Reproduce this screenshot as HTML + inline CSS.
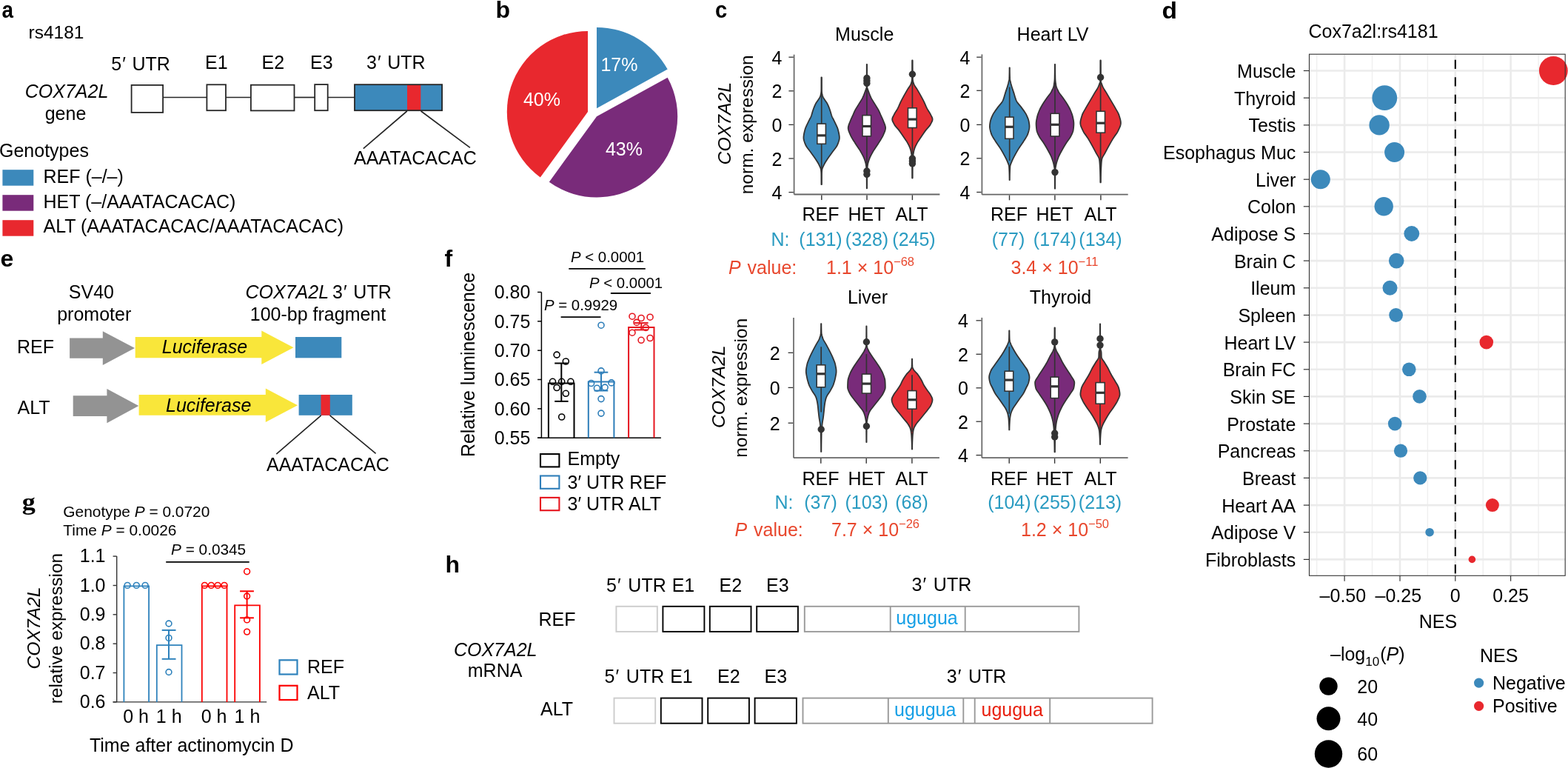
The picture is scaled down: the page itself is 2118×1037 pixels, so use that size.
<!DOCTYPE html>
<html><head><meta charset="utf-8"><title>Figure</title><style>
html,body{margin:0;padding:0;background:#fff;overflow:hidden;}
svg{display:block;}
text{font-family:"Liberation Sans",Arial,Helvetica,sans-serif;font-size:25px;fill:#000;}
</style></head><body>
<svg width="2118" height="1037" viewBox="0 0 2118 1037">
<rect x="0" y="0" width="2118" height="1037" fill="#fff"/>
<text transform="translate(2.6 24) scale(0.87 1)" x="0" y="0" style="font-size:32px;font-weight:bold">a</text>
<text x="38.5" y="52.0" style="font-size:24.5px" >rs4181</text>
<text x="150.3" y="95.0" >5<tspan dx="1.0">′</tspan><tspan dx="1.6"> UTR</tspan></text>
<text x="277.0" y="93.0" >E1</text>
<text x="353.5" y="93.0" >E2</text>
<text x="419.0" y="93.0" >E3</text>
<text x="495.0" y="93.0" >3<tspan dx="1.0">′</tspan><tspan dx="1.6"> UTR</tspan></text>
<text x="90.0" y="132.0" text-anchor="middle" style="font-style:italic" >COX7A2L</text>
<text x="88.5" y="161.5" text-anchor="middle" >gene</text>
<line x1="221.0" y1="131.5" x2="279.0" y2="131.5" stroke="#262626" stroke-width="1.7" />
<line x1="305.5" y1="131.5" x2="339.0" y2="131.5" stroke="#262626" stroke-width="1.7" />
<line x1="398.0" y1="131.5" x2="425.0" y2="131.5" stroke="#262626" stroke-width="1.7" />
<line x1="443.0" y1="131.5" x2="479.0" y2="131.5" stroke="#262626" stroke-width="1.7" />
<rect x="177.6" y="114.9" width="42.5" height="37.0" fill="#fff" stroke="#262626" stroke-width="1.8" />
<rect x="279.4" y="114.3" width="25.6" height="34.9" fill="#fff" stroke="#262626" stroke-width="1.8" />
<rect x="338.9" y="114.7" width="58.6" height="34.7" fill="#fff" stroke="#262626" stroke-width="1.8" />
<rect x="425.2" y="114.1" width="17.5" height="35.1" fill="#fff" stroke="#262626" stroke-width="1.8" />
<rect x="478.9" y="114.1" width="118.3" height="35.2" fill="#3c89bb" />
<rect x="550.0" y="114.1" width="18.3" height="35.2" fill="#e8282e" />
<rect x="479.0" y="114.2" width="118.1" height="35.0" fill="none" stroke="#262626" stroke-width="1.8" />
<line x1="549.8" y1="150.0" x2="490.8" y2="200.7" stroke="#262626" stroke-width="1.7" />
<line x1="568.6" y1="150.0" x2="634.9" y2="199.4" stroke="#262626" stroke-width="1.7" />
<text x="478.0" y="222.0" >AAATACACAC</text>
<text x="-1.0" y="211.7" >Genotypes</text>
<rect x="3.4" y="229.2" width="41.9" height="21.5" fill="#3c89bb" />
<text x="58.5" y="246.9" >REF (–/–)</text>
<rect x="3.4" y="263.2" width="41.9" height="21.5" fill="#792b7a" />
<text x="58.5" y="280.8" >HET (–/AAATACACAC)</text>
<rect x="3.4" y="297.2" width="41.9" height="21.5" fill="#e8282e" />
<text x="58.5" y="313.5" >ALT (AAATACACAC/AAATACACAC)</text>
<text x="669.5" y="24.0" style="font-size:32px;font-weight:bold" >b</text>
<path d="M806.00,146.20 L806.00,37.00 A109.2,109.2 0 0 1 901.69,93.59 Z" fill="#3c89bb" />
<path d="M806.00,157.30 L901.69,104.69 A109.2,109.2 0 0 1 741.81,245.64 Z" fill="#792b7a" />
<path d="M794.00,151.10 L729.81,239.44 A109.2,109.2 0 0 1 794.00,41.90 Z" fill="#e8282e" />
<text x="836.5" y="96.4" text-anchor="middle" style="fill:#fff" >17%</text>
<text x="732.0" y="143.1" text-anchor="middle" style="fill:#fff" >40%</text>
<text x="843.0" y="210.0" text-anchor="middle" style="fill:#fff" >43%</text>
<text transform="translate(966.0 24) scale(0.91 1)" x="0" y="0" style="font-size:32px;font-weight:bold">c</text>
<text x="1167.7" y="54.7" text-anchor="middle" >Muscle</text>
<text x="1422.0" y="55.1" text-anchor="middle" >Heart LV</text>
<text x="1172.0" y="410.1" text-anchor="middle" >Liver</text>
<text x="1432.4" y="410.1" text-anchor="middle" >Thyroid</text>
<text x="987.3" y="166.7" text-anchor="middle" style="font-size:24.8px;font-style:italic" transform="rotate(-90 987.3 166.7)">COX7A2L</text>
<text x="1017.2" y="168.3" text-anchor="middle" style="font-size:24.5px" transform="rotate(-90 1017.2 168.3)">norm. expression</text>
<text x="979.2" y="522.2" text-anchor="middle" style="font-size:24.8px;font-style:italic" transform="rotate(-90 979.2 522.2)">COX7A2L</text>
<text x="1009.1" y="523.6" text-anchor="middle" style="font-size:24.5px" transform="rotate(-90 1009.1 523.65)">norm. expression</text>
<line x1="1072.6" y1="73.7" x2="1072.6" y2="262.5" stroke="#666" stroke-width="1.7" />
<line x1="1072.6" y1="262.5" x2="1269.4" y2="262.5" stroke="#666" stroke-width="1.8" />
<line x1="1065.4" y1="77.2" x2="1071.8" y2="77.2" stroke="#333" stroke-width="1.3" />
<text x="1056.5" y="86.8" text-anchor="end" >4</text>
<line x1="1065.4" y1="122.8" x2="1071.8" y2="122.8" stroke="#333" stroke-width="1.3" />
<text x="1056.5" y="132.4" text-anchor="end" >2</text>
<line x1="1065.4" y1="168.4" x2="1071.8" y2="168.4" stroke="#333" stroke-width="1.3" />
<text x="1056.5" y="178.0" text-anchor="end" >0</text>
<line x1="1065.4" y1="214.0" x2="1071.8" y2="214.0" stroke="#333" stroke-width="1.3" />
<text x="1056.5" y="223.6" text-anchor="end" >2</text>
<line x1="1065.4" y1="259.6" x2="1071.8" y2="259.6" stroke="#333" stroke-width="1.3" />
<text x="1056.5" y="269.2" text-anchor="end" >4</text>
<line x1="1109.8" y1="263.4" x2="1109.8" y2="270.1" stroke="#333" stroke-width="1.4" />
<line x1="1171.0" y1="263.4" x2="1171.0" y2="270.1" stroke="#333" stroke-width="1.4" />
<line x1="1232.4" y1="263.4" x2="1232.4" y2="270.1" stroke="#333" stroke-width="1.4" />
<line x1="1326.4" y1="73.4" x2="1326.4" y2="262.7" stroke="#666" stroke-width="1.7" />
<line x1="1326.4" y1="262.7" x2="1523.7" y2="262.7" stroke="#666" stroke-width="1.8" />
<line x1="1319.2" y1="77.2" x2="1325.6" y2="77.2" stroke="#333" stroke-width="1.3" />
<text x="1310.3" y="86.8" text-anchor="end" >4</text>
<line x1="1319.2" y1="122.3" x2="1325.6" y2="122.3" stroke="#333" stroke-width="1.3" />
<text x="1310.3" y="131.9" text-anchor="end" >2</text>
<line x1="1319.2" y1="168.4" x2="1325.6" y2="168.4" stroke="#333" stroke-width="1.3" />
<text x="1310.3" y="178.0" text-anchor="end" >0</text>
<line x1="1319.2" y1="213.8" x2="1325.6" y2="213.8" stroke="#333" stroke-width="1.3" />
<text x="1310.3" y="223.4" text-anchor="end" >2</text>
<line x1="1319.2" y1="259.5" x2="1325.6" y2="259.5" stroke="#333" stroke-width="1.3" />
<text x="1310.3" y="269.1" text-anchor="end" >4</text>
<line x1="1363.5" y1="263.6" x2="1363.5" y2="270.3" stroke="#333" stroke-width="1.4" />
<line x1="1424.9" y1="263.6" x2="1424.9" y2="270.3" stroke="#333" stroke-width="1.4" />
<line x1="1486.9" y1="263.6" x2="1486.9" y2="270.3" stroke="#333" stroke-width="1.4" />
<line x1="1072.0" y1="428.9" x2="1072.0" y2="618.2" stroke="#666" stroke-width="1.7" />
<line x1="1072.0" y1="618.2" x2="1268.9" y2="618.2" stroke="#666" stroke-width="1.8" />
<line x1="1064.6" y1="476.3" x2="1071.2" y2="476.3" stroke="#333" stroke-width="1.3" />
<text x="1053.6" y="485.9" text-anchor="end" >2</text>
<line x1="1064.6" y1="523.4" x2="1071.2" y2="523.4" stroke="#333" stroke-width="1.3" />
<text x="1053.6" y="533.0" text-anchor="end" >0</text>
<line x1="1064.6" y1="571.2" x2="1071.2" y2="571.2" stroke="#333" stroke-width="1.3" />
<text x="1053.6" y="580.8" text-anchor="end" >2</text>
<line x1="1108.8" y1="619.1" x2="1108.8" y2="625.8" stroke="#333" stroke-width="1.4" />
<line x1="1170.2" y1="619.1" x2="1170.2" y2="625.8" stroke="#333" stroke-width="1.4" />
<line x1="1231.9" y1="619.1" x2="1231.9" y2="625.8" stroke="#333" stroke-width="1.4" />
<line x1="1326.3" y1="428.9" x2="1326.3" y2="618.2" stroke="#666" stroke-width="1.7" />
<line x1="1326.3" y1="618.2" x2="1523.6" y2="618.2" stroke="#666" stroke-width="1.8" />
<line x1="1318.5" y1="432.8" x2="1325.5" y2="432.8" stroke="#333" stroke-width="1.3" />
<text x="1307.9" y="442.4" text-anchor="end" >4</text>
<line x1="1318.5" y1="478.3" x2="1325.5" y2="478.3" stroke="#333" stroke-width="1.3" />
<text x="1307.9" y="487.9" text-anchor="end" >2</text>
<line x1="1318.5" y1="523.8" x2="1325.5" y2="523.8" stroke="#333" stroke-width="1.3" />
<text x="1307.9" y="533.4" text-anchor="end" >0</text>
<line x1="1318.5" y1="569.2" x2="1325.5" y2="569.2" stroke="#333" stroke-width="1.3" />
<text x="1307.9" y="578.8" text-anchor="end" >2</text>
<line x1="1318.5" y1="614.6" x2="1325.5" y2="614.6" stroke="#333" stroke-width="1.3" />
<text x="1307.9" y="624.2" text-anchor="end" >4</text>
<line x1="1363.2" y1="619.1" x2="1363.2" y2="625.8" stroke="#333" stroke-width="1.4" />
<line x1="1424.6" y1="619.1" x2="1424.6" y2="625.8" stroke="#333" stroke-width="1.4" />
<line x1="1486.3" y1="619.1" x2="1486.3" y2="625.8" stroke="#333" stroke-width="1.4" />
<path d="M1109.80,104.30 L1109.80,105.30 L1109.80,106.30 L1109.80,107.30 L1109.80,108.30 L1109.80,109.30 L1109.80,110.30 L1109.81,111.30 L1109.81,112.30 L1109.81,113.30 L1109.81,114.30 L1109.82,115.30 L1109.82,116.30 L1109.82,117.30 L1109.83,118.30 L1109.83,119.30 L1109.84,120.30 L1109.85,121.30 L1109.85,122.30 L1109.91,123.30 L1110.02,124.30 L1110.16,125.30 L1110.33,126.30 L1110.51,127.30 L1110.76,128.30 L1111.10,129.30 L1111.47,130.30 L1111.90,131.30 L1112.41,132.30 L1113.00,133.30 L1113.65,134.30 L1114.33,135.30 L1115.03,136.30 L1115.73,137.30 L1116.41,138.30 L1117.05,139.30 L1117.64,140.30 L1118.15,141.30 L1118.61,142.30 L1119.03,143.30 L1119.44,144.30 L1119.83,145.30 L1120.20,146.30 L1120.56,147.30 L1120.91,148.30 L1121.25,149.30 L1121.57,150.30 L1121.87,151.30 L1122.16,152.30 L1122.44,153.30 L1122.74,154.30 L1123.05,155.30 L1123.40,156.30 L1123.79,157.30 L1124.24,158.30 L1124.73,159.30 L1125.24,160.30 L1125.78,161.30 L1126.31,162.30 L1126.82,163.30 L1127.30,164.30 L1127.77,165.30 L1128.25,166.30 L1128.74,167.30 L1129.22,168.30 L1129.70,169.30 L1130.16,170.30 L1130.60,171.30 L1131.01,172.30 L1131.38,173.30 L1131.70,174.30 L1131.97,175.30 L1132.23,176.30 L1132.48,177.30 L1132.72,178.30 L1132.96,179.30 L1133.17,180.30 L1133.37,181.30 L1133.54,182.30 L1133.68,183.30 L1133.78,184.30 L1133.84,185.30 L1133.85,186.30 L1133.77,187.30 L1133.62,188.30 L1133.40,189.30 L1133.12,190.30 L1132.79,191.30 L1132.43,192.30 L1132.04,193.30 L1131.65,194.30 L1131.25,195.30 L1130.81,196.30 L1130.27,197.30 L1129.66,198.30 L1128.98,199.30 L1128.26,200.30 L1127.50,201.30 L1126.72,202.30 L1125.94,203.30 L1125.17,204.30 L1124.42,205.30 L1123.71,206.30 L1123.00,207.30 L1122.28,208.30 L1121.56,209.30 L1120.83,210.30 L1120.11,211.30 L1119.39,212.30 L1118.69,213.30 L1118.01,214.30 L1117.35,215.30 L1116.70,216.30 L1116.05,217.30 L1115.41,218.30 L1114.78,219.30 L1114.18,220.30 L1113.62,221.30 L1113.09,222.30 L1112.61,223.30 L1112.13,224.30 L1111.65,225.30 L1111.20,226.30 L1110.81,227.30 L1110.52,228.30 L1110.34,229.30 L1110.22,230.30 L1110.11,231.30 L1110.02,232.30 L1109.95,233.30 L1109.90,234.30 L1109.86,235.30 L1109.85,236.30 L1109.84,237.30 L1109.83,238.30 L1109.83,239.30 L1109.82,240.30 L1109.82,241.30 L1109.81,242.30 L1109.81,243.30 L1109.81,244.30 L1109.80,245.30 L1109.80,246.30 L1109.80,247.30 L1109.80,248.30 L1109.80,249.20 L1109.50,249.20 L1109.50,248.30 L1109.50,247.30 L1109.50,246.30 L1109.50,245.30 L1109.49,244.30 L1109.49,243.30 L1109.49,242.30 L1109.48,241.30 L1109.48,240.30 L1109.47,239.30 L1109.47,238.30 L1109.46,237.30 L1109.45,236.30 L1109.44,235.30 L1109.40,234.30 L1109.35,233.30 L1109.28,232.30 L1109.19,231.30 L1109.08,230.30 L1108.96,229.30 L1108.78,228.30 L1108.49,227.30 L1108.10,226.30 L1107.65,225.30 L1107.17,224.30 L1106.69,223.30 L1106.21,222.30 L1105.68,221.30 L1105.12,220.30 L1104.52,219.30 L1103.89,218.30 L1103.25,217.30 L1102.60,216.30 L1101.95,215.30 L1101.29,214.30 L1100.61,213.30 L1099.91,212.30 L1099.19,211.30 L1098.47,210.30 L1097.74,209.30 L1097.02,208.30 L1096.30,207.30 L1095.59,206.30 L1094.88,205.30 L1094.13,204.30 L1093.36,203.30 L1092.58,202.30 L1091.80,201.30 L1091.04,200.30 L1090.32,199.30 L1089.64,198.30 L1089.03,197.30 L1088.49,196.30 L1088.05,195.30 L1087.65,194.30 L1087.26,193.30 L1086.87,192.30 L1086.51,191.30 L1086.18,190.30 L1085.90,189.30 L1085.68,188.30 L1085.53,187.30 L1085.45,186.30 L1085.46,185.30 L1085.52,184.30 L1085.62,183.30 L1085.76,182.30 L1085.93,181.30 L1086.13,180.30 L1086.34,179.30 L1086.58,178.30 L1086.82,177.30 L1087.07,176.30 L1087.33,175.30 L1087.60,174.30 L1087.92,173.30 L1088.29,172.30 L1088.70,171.30 L1089.14,170.30 L1089.60,169.30 L1090.08,168.30 L1090.56,167.30 L1091.05,166.30 L1091.53,165.30 L1092.00,164.30 L1092.48,163.30 L1092.99,162.30 L1093.52,161.30 L1094.06,160.30 L1094.57,159.30 L1095.06,158.30 L1095.51,157.30 L1095.90,156.30 L1096.25,155.30 L1096.56,154.30 L1096.86,153.30 L1097.14,152.30 L1097.43,151.30 L1097.73,150.30 L1098.05,149.30 L1098.39,148.30 L1098.74,147.30 L1099.10,146.30 L1099.47,145.30 L1099.86,144.30 L1100.27,143.30 L1100.69,142.30 L1101.15,141.30 L1101.66,140.30 L1102.25,139.30 L1102.89,138.30 L1103.57,137.30 L1104.27,136.30 L1104.97,135.30 L1105.65,134.30 L1106.30,133.30 L1106.89,132.30 L1107.40,131.30 L1107.83,130.30 L1108.20,129.30 L1108.54,128.30 L1108.79,127.30 L1108.97,126.30 L1109.14,125.30 L1109.28,124.30 L1109.39,123.30 L1109.45,122.30 L1109.45,121.30 L1109.46,120.30 L1109.47,119.30 L1109.47,118.30 L1109.48,117.30 L1109.48,116.30 L1109.48,115.30 L1109.49,114.30 L1109.49,113.30 L1109.49,112.30 L1109.49,111.30 L1109.50,110.30 L1109.50,109.30 L1109.50,108.30 L1109.50,107.30 L1109.50,106.30 L1109.50,105.30 L1109.50,104.30 Z" fill="#3c89bb" stroke="#333333" stroke-width="1.8" stroke-linejoin="round"/>
<line x1="1109.7" y1="104.3" x2="1109.7" y2="249.2" stroke="#333333" stroke-width="1.7" />
<rect x="1103.8" y="167.1" width="11.6" height="27.2" fill="#fff" stroke="#333333" stroke-width="1.6" />
<line x1="1103.8" y1="182.9" x2="1115.5" y2="182.9" stroke="#333333" stroke-width="3.2" />
<path d="M1171.05,86.90 L1171.05,87.90 L1171.05,88.90 L1171.05,89.90 L1171.05,90.90 L1171.05,91.90 L1171.06,92.90 L1171.06,93.90 L1171.06,94.90 L1171.06,95.90 L1171.07,96.90 L1171.07,97.90 L1171.08,98.90 L1171.08,99.90 L1171.09,100.90 L1171.10,101.90 L1171.10,102.90 L1171.11,103.90 L1171.12,104.90 L1171.13,105.90 L1171.14,106.90 L1171.15,107.90 L1171.16,108.90 L1171.18,109.90 L1171.19,110.90 L1171.21,111.90 L1171.22,112.90 L1171.24,113.90 L1171.25,114.90 L1171.27,115.90 L1171.29,116.90 L1171.34,117.90 L1171.52,118.90 L1171.80,119.90 L1172.16,120.90 L1172.54,121.90 L1172.92,122.90 L1173.27,123.90 L1173.62,124.90 L1173.99,125.90 L1174.38,126.90 L1174.78,127.90 L1175.19,128.90 L1175.63,129.90 L1176.08,130.90 L1176.55,131.90 L1177.06,132.90 L1177.60,133.90 L1178.19,134.90 L1178.80,135.90 L1179.42,136.90 L1180.06,137.90 L1180.69,138.90 L1181.31,139.90 L1181.92,140.90 L1182.53,141.90 L1183.15,142.90 L1183.78,143.90 L1184.41,144.90 L1185.03,145.90 L1185.63,146.90 L1186.20,147.90 L1186.74,148.90 L1187.25,149.90 L1187.71,150.90 L1188.15,151.90 L1188.57,152.90 L1189.00,153.90 L1189.43,154.90 L1189.89,155.90 L1190.35,156.90 L1190.82,157.90 L1191.28,158.90 L1191.74,159.90 L1192.18,160.90 L1192.60,161.90 L1192.99,162.90 L1193.37,163.90 L1193.77,164.90 L1194.19,165.90 L1194.61,166.90 L1195.00,167.90 L1195.36,168.90 L1195.67,169.90 L1195.90,170.90 L1196.05,171.90 L1196.10,172.90 L1196.03,173.90 L1195.87,174.90 L1195.63,175.90 L1195.32,176.90 L1194.95,177.90 L1194.55,178.90 L1194.13,179.90 L1193.69,180.90 L1193.27,181.90 L1192.84,182.90 L1192.37,183.90 L1191.85,184.90 L1191.28,185.90 L1190.69,186.90 L1190.07,187.90 L1189.43,188.90 L1188.78,189.90 L1188.13,190.90 L1187.50,191.90 L1186.88,192.90 L1186.25,193.90 L1185.60,194.90 L1184.94,195.90 L1184.27,196.90 L1183.59,197.90 L1182.92,198.90 L1182.25,199.90 L1181.59,200.90 L1180.94,201.90 L1180.32,202.90 L1179.72,203.90 L1179.14,204.90 L1178.58,205.90 L1178.03,206.90 L1177.47,207.90 L1176.93,208.90 L1176.40,209.90 L1175.89,210.90 L1175.41,211.90 L1174.95,212.90 L1174.53,213.90 L1174.14,214.90 L1173.79,215.90 L1173.46,216.90 L1173.14,217.90 L1172.84,218.90 L1172.57,219.90 L1172.34,220.90 L1172.15,221.90 L1172.00,222.90 L1171.85,223.90 L1171.72,224.90 L1171.60,225.90 L1171.49,226.90 L1171.40,227.90 L1171.34,228.90 L1171.30,229.90 L1171.28,230.90 L1171.26,231.90 L1171.24,232.90 L1171.22,233.90 L1171.21,234.90 L1171.19,235.90 L1171.17,236.90 L1171.16,237.90 L1171.15,238.90 L1171.13,239.90 L1171.12,240.90 L1171.11,241.90 L1171.10,242.90 L1171.09,243.90 L1171.08,244.90 L1171.08,245.90 L1171.07,246.90 L1171.07,247.90 L1171.06,248.90 L1171.06,249.90 L1171.05,250.90 L1171.05,251.90 L1171.05,252.90 L1171.05,253.90 L1171.05,254.30 L1170.75,254.30 L1170.75,253.90 L1170.75,252.90 L1170.75,251.90 L1170.75,250.90 L1170.74,249.90 L1170.74,248.90 L1170.73,247.90 L1170.73,246.90 L1170.72,245.90 L1170.72,244.90 L1170.71,243.90 L1170.70,242.90 L1170.69,241.90 L1170.68,240.90 L1170.67,239.90 L1170.65,238.90 L1170.64,237.90 L1170.63,236.90 L1170.61,235.90 L1170.59,234.90 L1170.58,233.90 L1170.56,232.90 L1170.54,231.90 L1170.52,230.90 L1170.50,229.90 L1170.46,228.90 L1170.40,227.90 L1170.31,226.90 L1170.20,225.90 L1170.08,224.90 L1169.95,223.90 L1169.80,222.90 L1169.65,221.90 L1169.46,220.90 L1169.23,219.90 L1168.96,218.90 L1168.66,217.90 L1168.34,216.90 L1168.01,215.90 L1167.66,214.90 L1167.27,213.90 L1166.85,212.90 L1166.39,211.90 L1165.91,210.90 L1165.40,209.90 L1164.87,208.90 L1164.33,207.90 L1163.77,206.90 L1163.22,205.90 L1162.66,204.90 L1162.08,203.90 L1161.48,202.90 L1160.86,201.90 L1160.21,200.90 L1159.55,199.90 L1158.88,198.90 L1158.21,197.90 L1157.53,196.90 L1156.86,195.90 L1156.20,194.90 L1155.55,193.90 L1154.92,192.90 L1154.30,191.90 L1153.67,190.90 L1153.02,189.90 L1152.37,188.90 L1151.73,187.90 L1151.11,186.90 L1150.52,185.90 L1149.95,184.90 L1149.43,183.90 L1148.96,182.90 L1148.53,181.90 L1148.11,180.90 L1147.67,179.90 L1147.25,178.90 L1146.85,177.90 L1146.48,176.90 L1146.17,175.90 L1145.93,174.90 L1145.77,173.90 L1145.70,172.90 L1145.75,171.90 L1145.90,170.90 L1146.13,169.90 L1146.44,168.90 L1146.80,167.90 L1147.19,166.90 L1147.61,165.90 L1148.03,164.90 L1148.43,163.90 L1148.81,162.90 L1149.20,161.90 L1149.62,160.90 L1150.06,159.90 L1150.52,158.90 L1150.98,157.90 L1151.45,156.90 L1151.91,155.90 L1152.37,154.90 L1152.80,153.90 L1153.23,152.90 L1153.65,151.90 L1154.09,150.90 L1154.55,149.90 L1155.06,148.90 L1155.60,147.90 L1156.17,146.90 L1156.77,145.90 L1157.39,144.90 L1158.02,143.90 L1158.65,142.90 L1159.27,141.90 L1159.88,140.90 L1160.49,139.90 L1161.11,138.90 L1161.74,137.90 L1162.38,136.90 L1163.00,135.90 L1163.61,134.90 L1164.20,133.90 L1164.74,132.90 L1165.25,131.90 L1165.72,130.90 L1166.17,129.90 L1166.61,128.90 L1167.02,127.90 L1167.42,126.90 L1167.81,125.90 L1168.18,124.90 L1168.53,123.90 L1168.88,122.90 L1169.26,121.90 L1169.64,120.90 L1170.00,119.90 L1170.28,118.90 L1170.46,117.90 L1170.51,116.90 L1170.53,115.90 L1170.55,114.90 L1170.56,113.90 L1170.58,112.90 L1170.59,111.90 L1170.61,110.90 L1170.62,109.90 L1170.64,108.90 L1170.65,107.90 L1170.66,106.90 L1170.67,105.90 L1170.68,104.90 L1170.69,103.90 L1170.70,102.90 L1170.70,101.90 L1170.71,100.90 L1170.72,99.90 L1170.72,98.90 L1170.73,97.90 L1170.73,96.90 L1170.74,95.90 L1170.74,94.90 L1170.74,93.90 L1170.74,92.90 L1170.75,91.90 L1170.75,90.90 L1170.75,89.90 L1170.75,88.90 L1170.75,87.90 L1170.75,86.90 Z" fill="#792b7a" stroke="#333333" stroke-width="1.8" stroke-linejoin="round"/>
<line x1="1170.9" y1="86.9" x2="1170.9" y2="254.3" stroke="#333333" stroke-width="1.7" />
<circle cx="1170.9" cy="105.5" r="4.7" fill="#333333"/>
<circle cx="1170.9" cy="109.0" r="4.7" fill="#333333"/>
<circle cx="1170.9" cy="112.5" r="4.7" fill="#333333"/>
<circle cx="1170.9" cy="231.0" r="4.7" fill="#333333"/>
<circle cx="1170.9" cy="235.5" r="4.7" fill="#333333"/>
<rect x="1165.0" y="155.7" width="11.5" height="28.2" fill="#fff" stroke="#333333" stroke-width="1.6" />
<line x1="1165.0" y1="170.5" x2="1176.5" y2="170.5" stroke="#333333" stroke-width="3.2" />
<path d="M1232.55,81.40 L1232.55,82.40 L1232.55,83.40 L1232.55,84.40 L1232.56,85.40 L1232.56,86.40 L1232.56,87.40 L1232.57,88.40 L1232.57,89.40 L1232.58,90.40 L1232.59,91.40 L1232.60,92.40 L1232.60,93.40 L1232.61,94.40 L1232.63,95.40 L1232.64,96.40 L1232.65,97.40 L1232.67,98.40 L1232.68,99.40 L1232.70,100.40 L1232.72,101.40 L1232.74,102.40 L1232.76,103.40 L1232.78,104.40 L1232.80,105.40 L1232.85,106.40 L1232.95,107.40 L1233.10,108.40 L1233.28,109.40 L1233.49,110.40 L1233.73,111.40 L1233.98,112.40 L1234.35,113.40 L1234.83,114.40 L1235.40,115.40 L1236.04,116.40 L1236.71,117.40 L1237.40,118.40 L1238.06,119.40 L1238.68,120.40 L1239.26,121.40 L1239.84,122.40 L1240.42,123.40 L1240.99,124.40 L1241.57,125.40 L1242.14,126.40 L1242.71,127.40 L1243.27,128.40 L1243.82,129.40 L1244.37,130.40 L1244.92,131.40 L1245.46,132.40 L1246.00,133.40 L1246.53,134.40 L1247.05,135.40 L1247.55,136.40 L1248.05,137.40 L1248.53,138.40 L1248.98,139.40 L1249.42,140.40 L1249.85,141.40 L1250.28,142.40 L1250.71,143.40 L1251.17,144.40 L1251.65,145.40 L1252.16,146.40 L1252.73,147.40 L1253.33,148.40 L1253.96,149.40 L1254.60,150.40 L1255.23,151.40 L1255.83,152.40 L1256.39,153.40 L1256.90,154.40 L1257.41,155.40 L1257.95,156.40 L1258.47,157.40 L1258.95,158.40 L1259.32,159.40 L1259.55,160.40 L1259.59,161.40 L1259.45,162.40 L1259.15,163.40 L1258.74,164.40 L1258.25,165.40 L1257.71,166.40 L1257.17,167.40 L1256.62,168.40 L1255.97,169.40 L1255.22,170.40 L1254.39,171.40 L1253.52,172.40 L1252.63,173.40 L1251.75,174.40 L1250.91,175.40 L1250.13,176.40 L1249.39,177.40 L1248.66,178.40 L1247.95,179.40 L1247.24,180.40 L1246.55,181.40 L1245.86,182.40 L1245.18,183.40 L1244.50,184.40 L1243.83,185.40 L1243.14,186.40 L1242.45,187.40 L1241.77,188.40 L1241.10,189.40 L1240.45,190.40 L1239.83,191.40 L1239.24,192.40 L1238.69,193.40 L1238.16,194.40 L1237.64,195.40 L1237.12,196.40 L1236.63,197.40 L1236.18,198.40 L1235.75,199.40 L1235.38,200.40 L1235.06,201.40 L1234.79,202.40 L1234.54,203.40 L1234.32,204.40 L1234.11,205.40 L1233.93,206.40 L1233.76,207.40 L1233.60,208.40 L1233.44,209.40 L1233.29,210.40 L1233.13,211.40 L1233.00,212.40 L1232.89,213.40 L1232.82,214.40 L1232.79,215.40 L1232.77,216.40 L1232.75,217.40 L1232.73,218.40 L1232.71,219.40 L1232.70,220.40 L1232.68,221.40 L1232.67,222.40 L1232.65,223.40 L1232.64,224.40 L1232.63,225.40 L1232.62,226.40 L1232.61,227.40 L1232.60,228.40 L1232.59,229.40 L1232.58,230.40 L1232.58,231.40 L1232.57,232.40 L1232.57,233.40 L1232.56,234.40 L1232.56,235.40 L1232.56,236.40 L1232.55,237.40 L1232.55,238.40 L1232.55,239.40 L1232.55,240.40 L1232.55,240.50 L1232.25,240.50 L1232.25,240.40 L1232.25,239.40 L1232.25,238.40 L1232.25,237.40 L1232.24,236.40 L1232.24,235.40 L1232.24,234.40 L1232.23,233.40 L1232.23,232.40 L1232.22,231.40 L1232.22,230.40 L1232.21,229.40 L1232.20,228.40 L1232.19,227.40 L1232.18,226.40 L1232.17,225.40 L1232.16,224.40 L1232.15,223.40 L1232.13,222.40 L1232.12,221.40 L1232.10,220.40 L1232.09,219.40 L1232.07,218.40 L1232.05,217.40 L1232.03,216.40 L1232.01,215.40 L1231.98,214.40 L1231.91,213.40 L1231.80,212.40 L1231.67,211.40 L1231.51,210.40 L1231.36,209.40 L1231.20,208.40 L1231.04,207.40 L1230.87,206.40 L1230.69,205.40 L1230.48,204.40 L1230.26,203.40 L1230.01,202.40 L1229.74,201.40 L1229.42,200.40 L1229.05,199.40 L1228.62,198.40 L1228.17,197.40 L1227.68,196.40 L1227.16,195.40 L1226.64,194.40 L1226.11,193.40 L1225.56,192.40 L1224.97,191.40 L1224.35,190.40 L1223.70,189.40 L1223.03,188.40 L1222.35,187.40 L1221.66,186.40 L1220.97,185.40 L1220.30,184.40 L1219.62,183.40 L1218.94,182.40 L1218.25,181.40 L1217.56,180.40 L1216.85,179.40 L1216.14,178.40 L1215.41,177.40 L1214.67,176.40 L1213.89,175.40 L1213.05,174.40 L1212.17,173.40 L1211.28,172.40 L1210.41,171.40 L1209.58,170.40 L1208.83,169.40 L1208.18,168.40 L1207.63,167.40 L1207.09,166.40 L1206.55,165.40 L1206.06,164.40 L1205.65,163.40 L1205.35,162.40 L1205.21,161.40 L1205.25,160.40 L1205.48,159.40 L1205.85,158.40 L1206.33,157.40 L1206.85,156.40 L1207.39,155.40 L1207.90,154.40 L1208.41,153.40 L1208.97,152.40 L1209.57,151.40 L1210.20,150.40 L1210.84,149.40 L1211.47,148.40 L1212.07,147.40 L1212.64,146.40 L1213.15,145.40 L1213.63,144.40 L1214.09,143.40 L1214.52,142.40 L1214.95,141.40 L1215.38,140.40 L1215.82,139.40 L1216.27,138.40 L1216.75,137.40 L1217.25,136.40 L1217.75,135.40 L1218.27,134.40 L1218.80,133.40 L1219.34,132.40 L1219.88,131.40 L1220.43,130.40 L1220.98,129.40 L1221.53,128.40 L1222.09,127.40 L1222.66,126.40 L1223.23,125.40 L1223.81,124.40 L1224.38,123.40 L1224.96,122.40 L1225.54,121.40 L1226.12,120.40 L1226.74,119.40 L1227.40,118.40 L1228.09,117.40 L1228.76,116.40 L1229.40,115.40 L1229.97,114.40 L1230.45,113.40 L1230.82,112.40 L1231.07,111.40 L1231.31,110.40 L1231.52,109.40 L1231.70,108.40 L1231.85,107.40 L1231.95,106.40 L1232.00,105.40 L1232.02,104.40 L1232.04,103.40 L1232.06,102.40 L1232.08,101.40 L1232.10,100.40 L1232.12,99.40 L1232.13,98.40 L1232.15,97.40 L1232.16,96.40 L1232.17,95.40 L1232.19,94.40 L1232.20,93.40 L1232.20,92.40 L1232.21,91.40 L1232.22,90.40 L1232.23,89.40 L1232.23,88.40 L1232.24,87.40 L1232.24,86.40 L1232.24,85.40 L1232.25,84.40 L1232.25,83.40 L1232.25,82.40 L1232.25,81.40 Z" fill="#e42e35" stroke="#333333" stroke-width="1.8" stroke-linejoin="round"/>
<line x1="1232.4" y1="81.4" x2="1232.4" y2="240.5" stroke="#333333" stroke-width="1.7" />
<circle cx="1232.4" cy="100.3" r="4.7" fill="#333333"/>
<circle cx="1232.4" cy="214.0" r="4.7" fill="#333333"/>
<circle cx="1232.4" cy="217.5" r="4.7" fill="#333333"/>
<circle cx="1232.4" cy="221.0" r="4.7" fill="#333333"/>
<rect x="1226.5" y="145.8" width="11.6" height="26.7" fill="#fff" stroke="#333333" stroke-width="1.6" />
<line x1="1226.5" y1="161.1" x2="1238.0" y2="161.1" stroke="#333333" stroke-width="3.2" />
<path d="M1363.85,91.40 L1363.85,92.40 L1363.85,93.40 L1363.86,94.40 L1363.87,95.40 L1363.88,96.40 L1363.89,97.40 L1363.91,98.40 L1363.92,99.40 L1363.95,100.40 L1363.97,101.40 L1363.99,102.40 L1364.02,103.40 L1364.05,104.40 L1364.09,105.40 L1364.15,106.40 L1364.28,107.40 L1364.47,108.40 L1364.69,109.40 L1364.90,110.40 L1365.12,111.40 L1365.36,112.40 L1365.63,113.40 L1365.90,114.40 L1366.19,115.40 L1366.48,116.40 L1366.78,117.40 L1367.08,118.40 L1367.40,119.40 L1367.73,120.40 L1368.06,121.40 L1368.40,122.40 L1368.73,123.40 L1369.07,124.40 L1369.40,125.40 L1369.73,126.40 L1370.04,127.40 L1370.33,128.40 L1370.62,129.40 L1370.90,130.40 L1371.19,131.40 L1371.49,132.40 L1371.82,133.40 L1372.18,134.40 L1372.58,135.40 L1373.04,136.40 L1373.61,137.40 L1374.29,138.40 L1375.03,139.40 L1375.84,140.40 L1376.67,141.40 L1377.52,142.40 L1378.36,143.40 L1379.16,144.40 L1379.90,145.40 L1380.62,146.40 L1381.36,147.40 L1382.10,148.40 L1382.84,149.40 L1383.56,150.40 L1384.25,151.40 L1384.90,152.40 L1385.51,153.40 L1386.05,154.40 L1386.54,155.40 L1387.00,156.40 L1387.46,157.40 L1387.89,158.40 L1388.30,159.40 L1388.68,160.40 L1389.03,161.40 L1389.33,162.40 L1389.58,163.40 L1389.78,164.40 L1389.95,165.40 L1390.10,166.40 L1390.25,167.40 L1390.37,168.40 L1390.45,169.40 L1390.50,170.40 L1390.49,171.40 L1390.42,172.40 L1390.30,173.40 L1390.12,174.40 L1389.91,175.40 L1389.67,176.40 L1389.39,177.40 L1389.10,178.40 L1388.80,179.40 L1388.50,180.40 L1388.15,181.40 L1387.72,182.40 L1387.22,183.40 L1386.66,184.40 L1386.06,185.40 L1385.43,186.40 L1384.79,187.40 L1384.14,188.40 L1383.51,189.40 L1382.89,190.40 L1382.25,191.40 L1381.58,192.40 L1380.89,193.40 L1380.19,194.40 L1379.49,195.40 L1378.79,196.40 L1378.11,197.40 L1377.44,198.40 L1376.80,199.40 L1376.18,200.40 L1375.56,201.40 L1374.96,202.40 L1374.36,203.40 L1373.78,204.40 L1373.20,205.40 L1372.63,206.40 L1372.07,207.40 L1371.52,208.40 L1370.99,209.40 L1370.45,210.40 L1369.91,211.40 L1369.38,212.40 L1368.86,213.40 L1368.35,214.40 L1367.86,215.40 L1367.39,216.40 L1366.95,217.40 L1366.54,218.40 L1366.14,219.40 L1365.71,220.40 L1365.31,221.40 L1364.94,222.40 L1364.64,223.40 L1364.45,224.40 L1364.37,225.40 L1364.31,226.40 L1364.25,227.40 L1364.20,228.40 L1364.15,229.40 L1364.11,230.40 L1364.07,231.40 L1364.03,232.40 L1364.00,233.40 L1363.97,234.40 L1363.94,235.40 L1363.92,236.40 L1363.90,237.40 L1363.88,238.40 L1363.87,239.40 L1363.86,240.40 L1363.85,241.40 L1363.85,242.40 L1363.85,243.10 L1363.55,243.10 L1363.55,242.40 L1363.55,241.40 L1363.54,240.40 L1363.53,239.40 L1363.52,238.40 L1363.50,237.40 L1363.48,236.40 L1363.46,235.40 L1363.43,234.40 L1363.40,233.40 L1363.37,232.40 L1363.33,231.40 L1363.29,230.40 L1363.25,229.40 L1363.20,228.40 L1363.15,227.40 L1363.09,226.40 L1363.03,225.40 L1362.95,224.40 L1362.76,223.40 L1362.46,222.40 L1362.09,221.40 L1361.69,220.40 L1361.26,219.40 L1360.86,218.40 L1360.45,217.40 L1360.01,216.40 L1359.54,215.40 L1359.05,214.40 L1358.54,213.40 L1358.02,212.40 L1357.49,211.40 L1356.95,210.40 L1356.41,209.40 L1355.88,208.40 L1355.33,207.40 L1354.77,206.40 L1354.20,205.40 L1353.62,204.40 L1353.04,203.40 L1352.44,202.40 L1351.84,201.40 L1351.22,200.40 L1350.60,199.40 L1349.96,198.40 L1349.29,197.40 L1348.61,196.40 L1347.91,195.40 L1347.21,194.40 L1346.51,193.40 L1345.82,192.40 L1345.15,191.40 L1344.51,190.40 L1343.89,189.40 L1343.26,188.40 L1342.61,187.40 L1341.97,186.40 L1341.34,185.40 L1340.74,184.40 L1340.18,183.40 L1339.68,182.40 L1339.25,181.40 L1338.90,180.40 L1338.60,179.40 L1338.30,178.40 L1338.01,177.40 L1337.73,176.40 L1337.49,175.40 L1337.28,174.40 L1337.10,173.40 L1336.98,172.40 L1336.91,171.40 L1336.90,170.40 L1336.95,169.40 L1337.03,168.40 L1337.15,167.40 L1337.30,166.40 L1337.45,165.40 L1337.62,164.40 L1337.82,163.40 L1338.07,162.40 L1338.37,161.40 L1338.72,160.40 L1339.10,159.40 L1339.51,158.40 L1339.94,157.40 L1340.40,156.40 L1340.86,155.40 L1341.35,154.40 L1341.89,153.40 L1342.50,152.40 L1343.15,151.40 L1343.84,150.40 L1344.56,149.40 L1345.30,148.40 L1346.04,147.40 L1346.78,146.40 L1347.50,145.40 L1348.24,144.40 L1349.04,143.40 L1349.88,142.40 L1350.73,141.40 L1351.56,140.40 L1352.37,139.40 L1353.11,138.40 L1353.79,137.40 L1354.36,136.40 L1354.82,135.40 L1355.22,134.40 L1355.58,133.40 L1355.91,132.40 L1356.21,131.40 L1356.50,130.40 L1356.78,129.40 L1357.07,128.40 L1357.36,127.40 L1357.67,126.40 L1358.00,125.40 L1358.33,124.40 L1358.67,123.40 L1359.00,122.40 L1359.34,121.40 L1359.67,120.40 L1360.00,119.40 L1360.32,118.40 L1360.62,117.40 L1360.92,116.40 L1361.21,115.40 L1361.50,114.40 L1361.77,113.40 L1362.04,112.40 L1362.28,111.40 L1362.50,110.40 L1362.71,109.40 L1362.93,108.40 L1363.12,107.40 L1363.25,106.40 L1363.31,105.40 L1363.35,104.40 L1363.38,103.40 L1363.41,102.40 L1363.43,101.40 L1363.45,100.40 L1363.48,99.40 L1363.49,98.40 L1363.51,97.40 L1363.52,96.40 L1363.53,95.40 L1363.54,94.40 L1363.55,93.40 L1363.55,92.40 L1363.55,91.40 Z" fill="#3c89bb" stroke="#333333" stroke-width="1.8" stroke-linejoin="round"/>
<line x1="1363.7" y1="117.6" x2="1363.7" y2="216.9" stroke="#333333" stroke-width="1.7" />
<rect x="1357.8" y="158.1" width="11.2" height="29.2" fill="#fff" stroke="#333333" stroke-width="1.6" />
<line x1="1357.8" y1="171.3" x2="1369.0" y2="171.3" stroke="#333333" stroke-width="3.2" />
<path d="M1425.15,87.00 L1425.15,88.00 L1425.15,89.00 L1425.16,90.00 L1425.16,91.00 L1425.17,92.00 L1425.18,93.00 L1425.18,94.00 L1425.19,95.00 L1425.21,96.00 L1425.22,97.00 L1425.23,98.00 L1425.25,99.00 L1425.27,100.00 L1425.29,101.00 L1425.31,102.00 L1425.33,103.00 L1425.35,104.00 L1425.37,105.00 L1425.40,106.00 L1425.44,107.00 L1425.50,108.00 L1425.59,109.00 L1425.69,110.00 L1425.81,111.00 L1425.95,112.00 L1426.10,113.00 L1426.26,114.00 L1426.44,115.00 L1426.65,116.00 L1426.93,117.00 L1427.25,118.00 L1427.62,119.00 L1428.03,120.00 L1428.47,121.00 L1428.93,122.00 L1429.41,123.00 L1429.91,124.00 L1430.51,125.00 L1431.18,126.00 L1431.91,127.00 L1432.68,128.00 L1433.46,129.00 L1434.25,130.00 L1435.01,131.00 L1435.73,132.00 L1436.42,133.00 L1437.12,134.00 L1437.81,135.00 L1438.50,136.00 L1439.18,137.00 L1439.85,138.00 L1440.49,139.00 L1441.12,140.00 L1441.72,141.00 L1442.31,142.00 L1442.89,143.00 L1443.46,144.00 L1444.01,145.00 L1444.55,146.00 L1445.06,147.00 L1445.54,148.00 L1445.99,149.00 L1446.40,150.00 L1446.80,151.00 L1447.19,152.00 L1447.57,153.00 L1447.92,154.00 L1448.25,155.00 L1448.55,156.00 L1448.82,157.00 L1449.06,158.00 L1449.27,159.00 L1449.48,160.00 L1449.68,161.00 L1449.88,162.00 L1450.05,163.00 L1450.20,164.00 L1450.31,165.00 L1450.38,166.00 L1450.40,167.00 L1450.39,168.00 L1450.35,169.00 L1450.29,170.00 L1450.22,171.00 L1450.13,172.00 L1450.02,173.00 L1449.91,174.00 L1449.78,175.00 L1449.64,176.00 L1449.42,177.00 L1449.12,178.00 L1448.75,179.00 L1448.33,180.00 L1447.87,181.00 L1447.37,182.00 L1446.86,183.00 L1446.35,184.00 L1445.83,185.00 L1445.23,186.00 L1444.57,187.00 L1443.86,188.00 L1443.13,189.00 L1442.40,190.00 L1441.67,191.00 L1440.96,192.00 L1440.30,193.00 L1439.67,194.00 L1439.04,195.00 L1438.43,196.00 L1437.82,197.00 L1437.22,198.00 L1436.63,199.00 L1436.06,200.00 L1435.49,201.00 L1434.93,202.00 L1434.38,203.00 L1433.82,204.00 L1433.27,205.00 L1432.72,206.00 L1432.19,207.00 L1431.67,208.00 L1431.17,209.00 L1430.70,210.00 L1430.25,211.00 L1429.84,212.00 L1429.45,213.00 L1429.07,214.00 L1428.70,215.00 L1428.34,216.00 L1428.00,217.00 L1427.67,218.00 L1427.37,219.00 L1427.09,220.00 L1426.83,221.00 L1426.60,222.00 L1426.40,223.00 L1426.20,224.00 L1426.01,225.00 L1425.83,226.00 L1425.67,227.00 L1425.54,228.00 L1425.45,229.00 L1425.40,230.00 L1425.38,231.00 L1425.36,232.00 L1425.34,233.00 L1425.32,234.00 L1425.30,235.00 L1425.29,236.00 L1425.27,237.00 L1425.26,238.00 L1425.24,239.00 L1425.23,240.00 L1425.22,241.00 L1425.21,242.00 L1425.20,243.00 L1425.19,244.00 L1425.18,245.00 L1425.18,246.00 L1425.17,247.00 L1425.17,248.00 L1425.16,249.00 L1425.16,250.00 L1425.15,251.00 L1425.15,252.00 L1425.15,253.00 L1425.15,254.00 L1425.15,254.70 L1424.85,254.70 L1424.85,254.00 L1424.85,253.00 L1424.85,252.00 L1424.85,251.00 L1424.84,250.00 L1424.84,249.00 L1424.83,248.00 L1424.83,247.00 L1424.82,246.00 L1424.82,245.00 L1424.81,244.00 L1424.80,243.00 L1424.79,242.00 L1424.78,241.00 L1424.77,240.00 L1424.76,239.00 L1424.74,238.00 L1424.73,237.00 L1424.71,236.00 L1424.70,235.00 L1424.68,234.00 L1424.66,233.00 L1424.64,232.00 L1424.62,231.00 L1424.60,230.00 L1424.55,229.00 L1424.46,228.00 L1424.33,227.00 L1424.17,226.00 L1423.99,225.00 L1423.80,224.00 L1423.60,223.00 L1423.40,222.00 L1423.17,221.00 L1422.91,220.00 L1422.63,219.00 L1422.33,218.00 L1422.00,217.00 L1421.66,216.00 L1421.30,215.00 L1420.93,214.00 L1420.55,213.00 L1420.16,212.00 L1419.75,211.00 L1419.30,210.00 L1418.83,209.00 L1418.33,208.00 L1417.81,207.00 L1417.28,206.00 L1416.73,205.00 L1416.18,204.00 L1415.62,203.00 L1415.07,202.00 L1414.51,201.00 L1413.94,200.00 L1413.37,199.00 L1412.78,198.00 L1412.18,197.00 L1411.57,196.00 L1410.96,195.00 L1410.33,194.00 L1409.70,193.00 L1409.04,192.00 L1408.33,191.00 L1407.60,190.00 L1406.87,189.00 L1406.14,188.00 L1405.43,187.00 L1404.77,186.00 L1404.17,185.00 L1403.65,184.00 L1403.14,183.00 L1402.63,182.00 L1402.13,181.00 L1401.67,180.00 L1401.25,179.00 L1400.88,178.00 L1400.58,177.00 L1400.36,176.00 L1400.22,175.00 L1400.09,174.00 L1399.98,173.00 L1399.87,172.00 L1399.78,171.00 L1399.71,170.00 L1399.65,169.00 L1399.61,168.00 L1399.60,167.00 L1399.62,166.00 L1399.69,165.00 L1399.80,164.00 L1399.95,163.00 L1400.12,162.00 L1400.32,161.00 L1400.52,160.00 L1400.73,159.00 L1400.94,158.00 L1401.18,157.00 L1401.45,156.00 L1401.75,155.00 L1402.08,154.00 L1402.43,153.00 L1402.81,152.00 L1403.20,151.00 L1403.60,150.00 L1404.01,149.00 L1404.46,148.00 L1404.94,147.00 L1405.45,146.00 L1405.99,145.00 L1406.54,144.00 L1407.11,143.00 L1407.69,142.00 L1408.28,141.00 L1408.88,140.00 L1409.51,139.00 L1410.15,138.00 L1410.82,137.00 L1411.50,136.00 L1412.19,135.00 L1412.88,134.00 L1413.58,133.00 L1414.27,132.00 L1414.99,131.00 L1415.75,130.00 L1416.54,129.00 L1417.32,128.00 L1418.09,127.00 L1418.82,126.00 L1419.49,125.00 L1420.09,124.00 L1420.59,123.00 L1421.07,122.00 L1421.53,121.00 L1421.97,120.00 L1422.38,119.00 L1422.75,118.00 L1423.07,117.00 L1423.35,116.00 L1423.56,115.00 L1423.74,114.00 L1423.90,113.00 L1424.05,112.00 L1424.19,111.00 L1424.31,110.00 L1424.41,109.00 L1424.50,108.00 L1424.56,107.00 L1424.60,106.00 L1424.63,105.00 L1424.65,104.00 L1424.67,103.00 L1424.69,102.00 L1424.71,101.00 L1424.73,100.00 L1424.75,99.00 L1424.77,98.00 L1424.78,97.00 L1424.79,96.00 L1424.81,95.00 L1424.82,94.00 L1424.82,93.00 L1424.83,92.00 L1424.84,91.00 L1424.84,90.00 L1424.85,89.00 L1424.85,88.00 L1424.85,87.00 Z" fill="#792b7a" stroke="#333333" stroke-width="1.8" stroke-linejoin="round"/>
<line x1="1425.0" y1="87.0" x2="1425.0" y2="254.7" stroke="#333333" stroke-width="1.7" />
<circle cx="1425.0" cy="232.6" r="4.7" fill="#333333"/>
<rect x="1419.2" y="153.3" width="11.7" height="30.7" fill="#fff" stroke="#333333" stroke-width="1.6" />
<line x1="1419.2" y1="168.3" x2="1430.8" y2="168.3" stroke="#333333" stroke-width="3.2" />
<path d="M1486.75,81.40 L1486.75,82.40 L1486.75,83.40 L1486.75,84.40 L1486.75,85.40 L1486.76,86.40 L1486.76,87.40 L1486.76,88.40 L1486.77,89.40 L1486.77,90.40 L1486.78,91.40 L1486.78,92.40 L1486.79,93.40 L1486.79,94.40 L1486.80,95.40 L1486.81,96.40 L1486.82,97.40 L1486.83,98.40 L1486.84,99.40 L1486.86,100.40 L1486.87,101.40 L1486.88,102.40 L1486.90,103.40 L1486.92,104.40 L1486.93,105.40 L1486.95,106.40 L1486.97,107.40 L1486.99,108.40 L1487.04,109.40 L1487.19,110.40 L1487.43,111.40 L1487.74,112.40 L1488.10,113.40 L1488.48,114.40 L1488.86,115.40 L1489.26,116.40 L1489.73,117.40 L1490.25,118.40 L1490.81,119.40 L1491.41,120.40 L1492.04,121.40 L1492.67,122.40 L1493.30,123.40 L1493.92,124.40 L1494.53,125.40 L1495.10,126.40 L1495.68,127.40 L1496.27,128.40 L1496.85,129.40 L1497.43,130.40 L1498.02,131.40 L1498.61,132.40 L1499.19,133.40 L1499.78,134.40 L1500.37,135.40 L1500.95,136.40 L1501.54,137.40 L1502.14,138.40 L1502.73,139.40 L1503.33,140.40 L1503.92,141.40 L1504.51,142.40 L1505.09,143.40 L1505.66,144.40 L1506.22,145.40 L1506.78,146.40 L1507.35,147.40 L1507.93,148.40 L1508.52,149.40 L1509.10,150.40 L1509.66,151.40 L1510.19,152.40 L1510.68,153.40 L1511.12,154.40 L1511.50,155.40 L1511.82,156.40 L1512.13,157.40 L1512.44,158.40 L1512.73,159.40 L1513.01,160.40 L1513.26,161.40 L1513.48,162.40 L1513.66,163.40 L1513.80,164.40 L1513.88,165.40 L1513.90,166.40 L1513.82,167.40 L1513.65,168.40 L1513.40,169.40 L1513.08,170.40 L1512.70,171.40 L1512.28,172.40 L1511.83,173.40 L1511.37,174.40 L1510.91,175.40 L1510.46,176.40 L1509.96,177.40 L1509.39,178.40 L1508.76,179.40 L1508.08,180.40 L1507.38,181.40 L1506.66,182.40 L1505.93,183.40 L1505.22,184.40 L1504.54,185.40 L1503.90,186.40 L1503.29,187.40 L1502.69,188.40 L1502.10,189.40 L1501.51,190.40 L1500.93,191.40 L1500.36,192.40 L1499.79,193.40 L1499.23,194.40 L1498.67,195.40 L1498.11,196.40 L1497.56,197.40 L1497.01,198.40 L1496.47,199.40 L1495.93,200.40 L1495.39,201.40 L1494.86,202.40 L1494.33,203.40 L1493.80,204.40 L1493.28,205.40 L1492.76,206.40 L1492.22,207.40 L1491.62,208.40 L1491.00,209.40 L1490.38,210.40 L1489.79,211.40 L1489.25,212.40 L1488.79,213.40 L1488.46,214.40 L1488.25,215.40 L1488.10,216.40 L1487.97,217.40 L1487.87,218.40 L1487.77,219.40 L1487.70,220.40 L1487.63,221.40 L1487.57,222.40 L1487.52,223.40 L1487.46,224.40 L1487.41,225.40 L1487.35,226.40 L1487.30,227.40 L1487.25,228.40 L1487.20,229.40 L1487.16,230.40 L1487.11,231.40 L1487.07,232.40 L1487.03,233.40 L1486.99,234.40 L1486.95,235.40 L1486.92,236.40 L1486.89,237.40 L1486.86,238.40 L1486.84,239.40 L1486.81,240.40 L1486.80,241.40 L1486.78,242.40 L1486.77,243.40 L1486.76,244.40 L1486.75,245.40 L1486.75,246.40 L1486.45,246.40 L1486.45,245.40 L1486.44,244.40 L1486.43,243.40 L1486.42,242.40 L1486.40,241.40 L1486.39,240.40 L1486.36,239.40 L1486.34,238.40 L1486.31,237.40 L1486.28,236.40 L1486.25,235.40 L1486.21,234.40 L1486.17,233.40 L1486.13,232.40 L1486.09,231.40 L1486.04,230.40 L1486.00,229.40 L1485.95,228.40 L1485.90,227.40 L1485.85,226.40 L1485.79,225.40 L1485.74,224.40 L1485.68,223.40 L1485.63,222.40 L1485.57,221.40 L1485.50,220.40 L1485.43,219.40 L1485.33,218.40 L1485.23,217.40 L1485.10,216.40 L1484.95,215.40 L1484.74,214.40 L1484.41,213.40 L1483.95,212.40 L1483.41,211.40 L1482.82,210.40 L1482.20,209.40 L1481.58,208.40 L1480.98,207.40 L1480.44,206.40 L1479.92,205.40 L1479.40,204.40 L1478.87,203.40 L1478.34,202.40 L1477.81,201.40 L1477.27,200.40 L1476.73,199.40 L1476.19,198.40 L1475.64,197.40 L1475.09,196.40 L1474.53,195.40 L1473.97,194.40 L1473.41,193.40 L1472.84,192.40 L1472.27,191.40 L1471.69,190.40 L1471.10,189.40 L1470.51,188.40 L1469.91,187.40 L1469.30,186.40 L1468.66,185.40 L1467.98,184.40 L1467.27,183.40 L1466.54,182.40 L1465.82,181.40 L1465.12,180.40 L1464.44,179.40 L1463.81,178.40 L1463.24,177.40 L1462.74,176.40 L1462.29,175.40 L1461.83,174.40 L1461.37,173.40 L1460.92,172.40 L1460.50,171.40 L1460.12,170.40 L1459.80,169.40 L1459.55,168.40 L1459.38,167.40 L1459.30,166.40 L1459.32,165.40 L1459.40,164.40 L1459.54,163.40 L1459.72,162.40 L1459.94,161.40 L1460.19,160.40 L1460.47,159.40 L1460.76,158.40 L1461.07,157.40 L1461.38,156.40 L1461.70,155.40 L1462.08,154.40 L1462.52,153.40 L1463.01,152.40 L1463.54,151.40 L1464.10,150.40 L1464.68,149.40 L1465.27,148.40 L1465.85,147.40 L1466.42,146.40 L1466.98,145.40 L1467.54,144.40 L1468.11,143.40 L1468.69,142.40 L1469.28,141.40 L1469.87,140.40 L1470.47,139.40 L1471.06,138.40 L1471.66,137.40 L1472.25,136.40 L1472.83,135.40 L1473.42,134.40 L1474.01,133.40 L1474.59,132.40 L1475.18,131.40 L1475.77,130.40 L1476.35,129.40 L1476.93,128.40 L1477.52,127.40 L1478.10,126.40 L1478.67,125.40 L1479.28,124.40 L1479.90,123.40 L1480.53,122.40 L1481.16,121.40 L1481.79,120.40 L1482.39,119.40 L1482.95,118.40 L1483.47,117.40 L1483.94,116.40 L1484.34,115.40 L1484.72,114.40 L1485.10,113.40 L1485.46,112.40 L1485.77,111.40 L1486.01,110.40 L1486.16,109.40 L1486.21,108.40 L1486.23,107.40 L1486.25,106.40 L1486.27,105.40 L1486.28,104.40 L1486.30,103.40 L1486.32,102.40 L1486.33,101.40 L1486.34,100.40 L1486.36,99.40 L1486.37,98.40 L1486.38,97.40 L1486.39,96.40 L1486.40,95.40 L1486.41,94.40 L1486.41,93.40 L1486.42,92.40 L1486.42,91.40 L1486.43,90.40 L1486.43,89.40 L1486.44,88.40 L1486.44,87.40 L1486.44,86.40 L1486.45,85.40 L1486.45,84.40 L1486.45,83.40 L1486.45,82.40 L1486.45,81.40 Z" fill="#e42e35" stroke="#333333" stroke-width="1.8" stroke-linejoin="round"/>
<line x1="1486.6" y1="81.4" x2="1486.6" y2="246.4" stroke="#333333" stroke-width="1.7" />
<circle cx="1486.6" cy="104.5" r="4.7" fill="#333333"/>
<rect x="1481.0" y="150.3" width="11.5" height="28.9" fill="#fff" stroke="#333333" stroke-width="1.6" />
<line x1="1481.0" y1="166.2" x2="1492.5" y2="166.2" stroke="#333333" stroke-width="3.2" />
<path d="M1109.35,437.10 L1109.35,438.10 L1109.36,439.10 L1109.36,440.10 L1109.38,441.10 L1109.39,442.10 L1109.41,443.10 L1109.43,444.10 L1109.45,445.10 L1109.48,446.10 L1109.51,447.10 L1109.54,448.10 L1109.58,449.10 L1109.63,450.10 L1109.76,451.10 L1109.96,452.10 L1110.22,453.10 L1110.52,454.10 L1110.85,455.10 L1111.19,456.10 L1111.54,457.10 L1111.96,458.10 L1112.44,459.10 L1112.98,460.10 L1113.56,461.10 L1114.15,462.10 L1114.76,463.10 L1115.36,464.10 L1115.93,465.10 L1116.47,466.10 L1117.00,467.10 L1117.54,468.10 L1118.08,469.10 L1118.62,470.10 L1119.15,471.10 L1119.67,472.10 L1120.19,473.10 L1120.70,474.10 L1121.20,475.10 L1121.70,476.10 L1122.20,477.10 L1122.69,478.10 L1123.18,479.10 L1123.65,480.10 L1124.11,481.10 L1124.55,482.10 L1124.98,483.10 L1125.39,484.10 L1125.80,485.10 L1126.21,486.10 L1126.61,487.10 L1127.00,488.10 L1127.36,489.10 L1127.69,490.10 L1127.99,491.10 L1128.24,492.10 L1128.45,493.10 L1128.65,494.10 L1128.86,495.10 L1129.05,496.10 L1129.22,497.10 L1129.37,498.10 L1129.49,499.10 L1129.56,500.10 L1129.60,501.10 L1129.58,502.10 L1129.52,503.10 L1129.41,504.10 L1129.27,505.10 L1129.10,506.10 L1128.92,507.10 L1128.72,508.10 L1128.52,509.10 L1128.32,510.10 L1128.12,511.10 L1127.90,512.10 L1127.65,513.10 L1127.39,514.10 L1127.11,515.10 L1126.81,516.10 L1126.49,517.10 L1126.15,518.10 L1125.80,519.10 L1125.41,520.10 L1124.98,521.10 L1124.50,522.10 L1123.99,523.10 L1123.46,524.10 L1122.91,525.10 L1122.36,526.10 L1121.80,527.10 L1121.24,528.10 L1120.65,529.10 L1120.01,530.10 L1119.33,531.10 L1118.64,532.10 L1117.97,533.10 L1117.34,534.10 L1116.78,535.10 L1116.30,536.10 L1115.94,537.10 L1115.63,538.10 L1115.35,539.10 L1115.09,540.10 L1114.86,541.10 L1114.65,542.10 L1114.45,543.10 L1114.27,544.10 L1114.11,545.10 L1113.96,546.10 L1113.82,547.10 L1113.69,548.10 L1113.58,549.10 L1113.47,550.10 L1113.37,551.10 L1113.27,552.10 L1113.17,553.10 L1113.07,554.10 L1112.96,555.10 L1112.85,556.10 L1112.74,557.10 L1112.63,558.10 L1112.53,559.10 L1112.42,560.10 L1112.31,561.10 L1112.19,562.10 L1112.06,563.10 L1111.93,564.10 L1111.78,565.10 L1111.61,566.10 L1111.44,567.10 L1111.26,568.10 L1111.08,569.10 L1110.92,570.10 L1110.77,571.10 L1110.64,572.10 L1110.54,573.10 L1110.44,574.10 L1110.35,575.10 L1110.25,576.10 L1110.17,577.10 L1110.08,578.10 L1110.01,579.10 L1109.93,580.10 L1109.87,581.10 L1109.81,582.10 L1109.77,583.10 L1109.73,584.10 L1109.70,585.10 L1109.67,586.10 L1109.65,587.10 L1109.62,588.10 L1109.60,589.10 L1109.58,590.10 L1109.56,591.10 L1109.54,592.10 L1109.52,593.10 L1109.50,594.10 L1109.48,595.10 L1109.47,596.10 L1109.45,597.10 L1109.44,598.10 L1109.42,599.10 L1109.41,600.10 L1109.40,601.10 L1109.39,602.10 L1109.38,603.10 L1109.37,604.10 L1109.37,605.10 L1109.36,606.10 L1109.36,607.10 L1109.35,608.10 L1109.35,609.10 L1109.35,609.90 L1109.05,609.90 L1109.05,609.10 L1109.05,608.10 L1109.04,607.10 L1109.04,606.10 L1109.03,605.10 L1109.03,604.10 L1109.02,603.10 L1109.01,602.10 L1109.00,601.10 L1108.99,600.10 L1108.98,599.10 L1108.96,598.10 L1108.95,597.10 L1108.93,596.10 L1108.92,595.10 L1108.90,594.10 L1108.88,593.10 L1108.86,592.10 L1108.84,591.10 L1108.82,590.10 L1108.80,589.10 L1108.78,588.10 L1108.75,587.10 L1108.73,586.10 L1108.70,585.10 L1108.67,584.10 L1108.63,583.10 L1108.59,582.10 L1108.53,581.10 L1108.47,580.10 L1108.39,579.10 L1108.32,578.10 L1108.23,577.10 L1108.15,576.10 L1108.05,575.10 L1107.96,574.10 L1107.86,573.10 L1107.76,572.10 L1107.63,571.10 L1107.48,570.10 L1107.32,569.10 L1107.14,568.10 L1106.96,567.10 L1106.79,566.10 L1106.62,565.10 L1106.47,564.10 L1106.34,563.10 L1106.21,562.10 L1106.09,561.10 L1105.98,560.10 L1105.87,559.10 L1105.77,558.10 L1105.66,557.10 L1105.55,556.10 L1105.44,555.10 L1105.33,554.10 L1105.23,553.10 L1105.13,552.10 L1105.03,551.10 L1104.93,550.10 L1104.82,549.10 L1104.71,548.10 L1104.58,547.10 L1104.44,546.10 L1104.29,545.10 L1104.13,544.10 L1103.95,543.10 L1103.75,542.10 L1103.54,541.10 L1103.31,540.10 L1103.05,539.10 L1102.77,538.10 L1102.46,537.10 L1102.10,536.10 L1101.62,535.10 L1101.06,534.10 L1100.43,533.10 L1099.76,532.10 L1099.07,531.10 L1098.39,530.10 L1097.75,529.10 L1097.16,528.10 L1096.60,527.10 L1096.04,526.10 L1095.49,525.10 L1094.94,524.10 L1094.41,523.10 L1093.90,522.10 L1093.42,521.10 L1092.99,520.10 L1092.60,519.10 L1092.25,518.10 L1091.91,517.10 L1091.59,516.10 L1091.29,515.10 L1091.01,514.10 L1090.75,513.10 L1090.50,512.10 L1090.28,511.10 L1090.08,510.10 L1089.88,509.10 L1089.68,508.10 L1089.48,507.10 L1089.30,506.10 L1089.13,505.10 L1088.99,504.10 L1088.88,503.10 L1088.82,502.10 L1088.80,501.10 L1088.84,500.10 L1088.91,499.10 L1089.03,498.10 L1089.18,497.10 L1089.35,496.10 L1089.54,495.10 L1089.75,494.10 L1089.95,493.10 L1090.16,492.10 L1090.41,491.10 L1090.71,490.10 L1091.04,489.10 L1091.40,488.10 L1091.79,487.10 L1092.19,486.10 L1092.60,485.10 L1093.01,484.10 L1093.42,483.10 L1093.85,482.10 L1094.29,481.10 L1094.75,480.10 L1095.22,479.10 L1095.71,478.10 L1096.20,477.10 L1096.70,476.10 L1097.20,475.10 L1097.70,474.10 L1098.21,473.10 L1098.73,472.10 L1099.25,471.10 L1099.78,470.10 L1100.32,469.10 L1100.86,468.10 L1101.40,467.10 L1101.93,466.10 L1102.47,465.10 L1103.04,464.10 L1103.64,463.10 L1104.25,462.10 L1104.84,461.10 L1105.42,460.10 L1105.96,459.10 L1106.44,458.10 L1106.86,457.10 L1107.21,456.10 L1107.55,455.10 L1107.88,454.10 L1108.18,453.10 L1108.44,452.10 L1108.64,451.10 L1108.77,450.10 L1108.82,449.10 L1108.86,448.10 L1108.89,447.10 L1108.92,446.10 L1108.95,445.10 L1108.97,444.10 L1108.99,443.10 L1109.01,442.10 L1109.02,441.10 L1109.04,440.10 L1109.04,439.10 L1109.05,438.10 L1109.05,437.10 Z" fill="#3c89bb" stroke="#333333" stroke-width="1.8" stroke-linejoin="round"/>
<line x1="1109.2" y1="468.3" x2="1109.2" y2="556.5" stroke="#333333" stroke-width="1.7" />
<circle cx="1109.2" cy="579.7" r="4.7" fill="#333333"/>
<rect x="1103.2" y="492.8" width="11.5" height="30.0" fill="#fff" stroke="#333333" stroke-width="1.6" />
<line x1="1103.2" y1="504.8" x2="1114.7" y2="504.8" stroke="#333333" stroke-width="3.2" />
<path d="M1170.55,440.50 L1170.55,441.50 L1170.55,442.50 L1170.55,443.50 L1170.55,444.50 L1170.56,445.50 L1170.56,446.50 L1170.56,447.50 L1170.57,448.50 L1170.57,449.50 L1170.58,450.50 L1170.58,451.50 L1170.59,452.50 L1170.60,453.50 L1170.61,454.50 L1170.62,455.50 L1170.63,456.50 L1170.64,457.50 L1170.66,458.50 L1170.67,459.50 L1170.69,460.50 L1170.70,461.50 L1170.72,462.50 L1170.74,463.50 L1170.76,464.50 L1170.78,465.50 L1170.81,466.50 L1170.93,467.50 L1171.18,468.50 L1171.52,469.50 L1171.90,470.50 L1172.32,471.50 L1172.72,472.50 L1173.18,473.50 L1173.71,474.50 L1174.29,475.50 L1174.91,476.50 L1175.55,477.50 L1176.22,478.50 L1176.88,479.50 L1177.54,480.50 L1178.19,481.50 L1178.86,482.50 L1179.56,483.50 L1180.27,484.50 L1180.98,485.50 L1181.69,486.50 L1182.40,487.50 L1183.09,488.50 L1183.77,489.50 L1184.45,490.50 L1185.14,491.50 L1185.82,492.50 L1186.50,493.50 L1187.16,494.50 L1187.80,495.50 L1188.42,496.50 L1189.00,497.50 L1189.56,498.50 L1190.12,499.50 L1190.67,500.50 L1191.20,501.50 L1191.70,502.50 L1192.18,503.50 L1192.62,504.50 L1193.02,505.50 L1193.38,506.50 L1193.74,507.50 L1194.09,508.50 L1194.43,509.50 L1194.74,510.50 L1195.02,511.50 L1195.25,512.50 L1195.41,513.50 L1195.51,514.50 L1195.57,515.50 L1195.62,516.50 L1195.67,517.50 L1195.71,518.50 L1195.75,519.50 L1195.77,520.50 L1195.79,521.50 L1195.80,522.50 L1195.78,523.50 L1195.63,524.50 L1195.38,525.50 L1195.04,526.50 L1194.63,527.50 L1194.17,528.50 L1193.68,529.50 L1193.19,530.50 L1192.70,531.50 L1192.16,532.50 L1191.55,533.50 L1190.86,534.50 L1190.13,535.50 L1189.37,536.50 L1188.59,537.50 L1187.81,538.50 L1187.05,539.50 L1186.30,540.50 L1185.52,541.50 L1184.73,542.50 L1183.92,543.50 L1183.11,544.50 L1182.31,545.50 L1181.51,546.50 L1180.73,547.50 L1179.97,548.50 L1179.19,549.50 L1178.38,550.50 L1177.57,551.50 L1176.77,552.50 L1176.02,553.50 L1175.34,554.50 L1174.73,555.50 L1174.24,556.50 L1173.84,557.50 L1173.46,558.50 L1173.12,559.50 L1172.80,560.50 L1172.51,561.50 L1172.25,562.50 L1172.02,563.50 L1171.81,564.50 L1171.63,565.50 L1171.45,566.50 L1171.28,567.50 L1171.12,568.50 L1170.99,569.50 L1170.88,570.50 L1170.82,571.50 L1170.79,572.50 L1170.77,573.50 L1170.75,574.50 L1170.73,575.50 L1170.71,576.50 L1170.70,577.50 L1170.68,578.50 L1170.66,579.50 L1170.65,580.50 L1170.64,581.50 L1170.63,582.50 L1170.62,583.50 L1170.61,584.50 L1170.60,585.50 L1170.59,586.50 L1170.58,587.50 L1170.58,588.50 L1170.57,589.50 L1170.56,590.50 L1170.56,591.50 L1170.56,592.50 L1170.55,593.50 L1170.55,594.50 L1170.55,595.50 L1170.55,596.50 L1170.55,597.10 L1170.25,597.10 L1170.25,596.50 L1170.25,595.50 L1170.25,594.50 L1170.25,593.50 L1170.24,592.50 L1170.24,591.50 L1170.24,590.50 L1170.23,589.50 L1170.22,588.50 L1170.22,587.50 L1170.21,586.50 L1170.20,585.50 L1170.19,584.50 L1170.18,583.50 L1170.17,582.50 L1170.16,581.50 L1170.15,580.50 L1170.14,579.50 L1170.12,578.50 L1170.10,577.50 L1170.09,576.50 L1170.07,575.50 L1170.05,574.50 L1170.03,573.50 L1170.01,572.50 L1169.98,571.50 L1169.92,570.50 L1169.81,569.50 L1169.68,568.50 L1169.52,567.50 L1169.35,566.50 L1169.17,565.50 L1168.99,564.50 L1168.78,563.50 L1168.55,562.50 L1168.29,561.50 L1168.00,560.50 L1167.68,559.50 L1167.34,558.50 L1166.96,557.50 L1166.56,556.50 L1166.07,555.50 L1165.46,554.50 L1164.78,553.50 L1164.03,552.50 L1163.23,551.50 L1162.42,550.50 L1161.61,549.50 L1160.83,548.50 L1160.07,547.50 L1159.29,546.50 L1158.49,545.50 L1157.69,544.50 L1156.88,543.50 L1156.07,542.50 L1155.28,541.50 L1154.50,540.50 L1153.75,539.50 L1152.99,538.50 L1152.21,537.50 L1151.43,536.50 L1150.67,535.50 L1149.94,534.50 L1149.25,533.50 L1148.64,532.50 L1148.10,531.50 L1147.61,530.50 L1147.12,529.50 L1146.63,528.50 L1146.17,527.50 L1145.76,526.50 L1145.42,525.50 L1145.17,524.50 L1145.02,523.50 L1145.00,522.50 L1145.01,521.50 L1145.03,520.50 L1145.05,519.50 L1145.09,518.50 L1145.13,517.50 L1145.18,516.50 L1145.23,515.50 L1145.29,514.50 L1145.39,513.50 L1145.55,512.50 L1145.78,511.50 L1146.06,510.50 L1146.37,509.50 L1146.71,508.50 L1147.06,507.50 L1147.42,506.50 L1147.78,505.50 L1148.18,504.50 L1148.62,503.50 L1149.10,502.50 L1149.60,501.50 L1150.13,500.50 L1150.68,499.50 L1151.24,498.50 L1151.80,497.50 L1152.38,496.50 L1153.00,495.50 L1153.64,494.50 L1154.30,493.50 L1154.98,492.50 L1155.66,491.50 L1156.35,490.50 L1157.03,489.50 L1157.71,488.50 L1158.40,487.50 L1159.11,486.50 L1159.82,485.50 L1160.53,484.50 L1161.24,483.50 L1161.94,482.50 L1162.61,481.50 L1163.26,480.50 L1163.92,479.50 L1164.58,478.50 L1165.25,477.50 L1165.89,476.50 L1166.51,475.50 L1167.09,474.50 L1167.62,473.50 L1168.08,472.50 L1168.48,471.50 L1168.90,470.50 L1169.28,469.50 L1169.62,468.50 L1169.87,467.50 L1169.99,466.50 L1170.02,465.50 L1170.04,464.50 L1170.06,463.50 L1170.08,462.50 L1170.10,461.50 L1170.11,460.50 L1170.13,459.50 L1170.14,458.50 L1170.16,457.50 L1170.17,456.50 L1170.18,455.50 L1170.19,454.50 L1170.20,453.50 L1170.21,452.50 L1170.22,451.50 L1170.22,450.50 L1170.23,449.50 L1170.23,448.50 L1170.24,447.50 L1170.24,446.50 L1170.24,445.50 L1170.25,444.50 L1170.25,443.50 L1170.25,442.50 L1170.25,441.50 L1170.25,440.50 Z" fill="#792b7a" stroke="#333333" stroke-width="1.8" stroke-linejoin="round"/>
<line x1="1170.4" y1="478.1" x2="1170.4" y2="555.8" stroke="#333333" stroke-width="1.7" />
<circle cx="1170.4" cy="461.7" r="4.7" fill="#333333"/>
<circle cx="1170.4" cy="575.5" r="4.7" fill="#333333"/>
<rect x="1164.5" y="505.1" width="12.0" height="26.0" fill="#fff" stroke="#333333" stroke-width="1.6" />
<line x1="1164.5" y1="518.1" x2="1176.5" y2="518.1" stroke="#333333" stroke-width="3.2" />
<path d="M1232.15,484.70 L1232.15,485.70 L1232.16,486.70 L1232.17,487.70 L1232.18,488.70 L1232.20,489.70 L1232.23,490.70 L1232.25,491.70 L1232.29,492.70 L1232.33,493.70 L1232.37,494.70 L1232.46,495.70 L1232.78,496.70 L1233.27,497.70 L1233.85,498.70 L1234.44,499.70 L1235.18,500.70 L1236.05,501.70 L1237.00,502.70 L1237.98,503.70 L1238.92,504.70 L1239.77,505.70 L1240.51,506.70 L1241.22,507.70 L1241.90,508.70 L1242.55,509.70 L1243.17,510.70 L1243.77,511.70 L1244.34,512.70 L1244.88,513.70 L1245.38,514.70 L1245.84,515.70 L1246.30,516.70 L1246.77,517.70 L1247.27,518.70 L1247.81,519.70 L1248.40,520.70 L1249.02,521.70 L1249.67,522.70 L1250.34,523.70 L1251.01,524.70 L1251.69,525.70 L1252.37,526.70 L1253.10,527.70 L1253.86,528.70 L1254.63,529.70 L1255.36,530.70 L1256.05,531.70 L1256.64,532.70 L1257.17,533.70 L1257.71,534.70 L1258.24,535.70 L1258.72,536.70 L1259.11,537.70 L1259.39,538.70 L1259.50,539.70 L1259.45,540.70 L1259.30,541.70 L1259.05,542.70 L1258.74,543.70 L1258.39,544.70 L1258.01,545.70 L1257.62,546.70 L1257.14,547.70 L1256.53,548.70 L1255.84,549.70 L1255.10,550.70 L1254.32,551.70 L1253.55,552.70 L1252.80,553.70 L1252.03,554.70 L1251.24,555.70 L1250.42,556.70 L1249.59,557.70 L1248.76,558.70 L1247.94,559.70 L1247.14,560.70 L1246.33,561.70 L1245.52,562.70 L1244.71,563.70 L1243.91,564.70 L1243.10,565.70 L1242.30,566.70 L1241.47,567.70 L1240.61,568.70 L1239.75,569.70 L1238.90,570.70 L1238.11,571.70 L1237.40,572.70 L1236.79,573.70 L1236.22,574.70 L1235.67,575.70 L1235.16,576.70 L1234.71,577.70 L1234.32,578.70 L1234.02,579.70 L1233.80,580.70 L1233.61,581.70 L1233.44,582.70 L1233.29,583.70 L1233.16,584.70 L1233.03,585.70 L1232.93,586.70 L1232.84,587.70 L1232.76,588.70 L1232.70,589.70 L1232.65,590.70 L1232.59,591.70 L1232.54,592.70 L1232.49,593.70 L1232.45,594.70 L1232.40,595.70 L1232.36,596.70 L1232.32,597.70 L1232.29,598.70 L1232.26,599.70 L1232.23,600.70 L1232.21,601.70 L1232.19,602.70 L1232.17,603.70 L1232.16,604.70 L1232.15,605.70 L1232.15,606.50 L1231.85,606.50 L1231.85,605.70 L1231.84,604.70 L1231.83,603.70 L1231.81,602.70 L1231.79,601.70 L1231.77,600.70 L1231.74,599.70 L1231.71,598.70 L1231.68,597.70 L1231.64,596.70 L1231.60,595.70 L1231.55,594.70 L1231.51,593.70 L1231.46,592.70 L1231.41,591.70 L1231.35,590.70 L1231.30,589.70 L1231.24,588.70 L1231.16,587.70 L1231.07,586.70 L1230.97,585.70 L1230.84,584.70 L1230.71,583.70 L1230.56,582.70 L1230.39,581.70 L1230.20,580.70 L1229.98,579.70 L1229.68,578.70 L1229.29,577.70 L1228.84,576.70 L1228.33,575.70 L1227.78,574.70 L1227.21,573.70 L1226.60,572.70 L1225.89,571.70 L1225.10,570.70 L1224.25,569.70 L1223.39,568.70 L1222.53,567.70 L1221.70,566.70 L1220.90,565.70 L1220.09,564.70 L1219.29,563.70 L1218.48,562.70 L1217.67,561.70 L1216.86,560.70 L1216.06,559.70 L1215.24,558.70 L1214.41,557.70 L1213.58,556.70 L1212.76,555.70 L1211.97,554.70 L1211.20,553.70 L1210.45,552.70 L1209.68,551.70 L1208.90,550.70 L1208.16,549.70 L1207.47,548.70 L1206.86,547.70 L1206.38,546.70 L1205.99,545.70 L1205.61,544.70 L1205.26,543.70 L1204.95,542.70 L1204.70,541.70 L1204.55,540.70 L1204.50,539.70 L1204.61,538.70 L1204.89,537.70 L1205.28,536.70 L1205.76,535.70 L1206.29,534.70 L1206.83,533.70 L1207.36,532.70 L1207.95,531.70 L1208.64,530.70 L1209.37,529.70 L1210.14,528.70 L1210.90,527.70 L1211.63,526.70 L1212.31,525.70 L1212.99,524.70 L1213.66,523.70 L1214.33,522.70 L1214.98,521.70 L1215.60,520.70 L1216.19,519.70 L1216.73,518.70 L1217.23,517.70 L1217.70,516.70 L1218.16,515.70 L1218.62,514.70 L1219.12,513.70 L1219.66,512.70 L1220.23,511.70 L1220.83,510.70 L1221.45,509.70 L1222.10,508.70 L1222.78,507.70 L1223.49,506.70 L1224.23,505.70 L1225.08,504.70 L1226.02,503.70 L1227.00,502.70 L1227.95,501.70 L1228.82,500.70 L1229.56,499.70 L1230.15,498.70 L1230.73,497.70 L1231.22,496.70 L1231.54,495.70 L1231.63,494.70 L1231.67,493.70 L1231.71,492.70 L1231.75,491.70 L1231.77,490.70 L1231.80,489.70 L1231.82,488.70 L1231.83,487.70 L1231.84,486.70 L1231.85,485.70 L1231.85,484.70 Z" fill="#e42e35" stroke="#333333" stroke-width="1.8" stroke-linejoin="round"/>
<line x1="1232.0" y1="506.3" x2="1232.0" y2="583.0" stroke="#333333" stroke-width="1.7" />
<rect x="1226.2" y="527.6" width="11.6" height="24.6" fill="#fff" stroke="#333333" stroke-width="1.6" />
<line x1="1226.2" y1="539.8" x2="1237.8" y2="539.8" stroke="#333333" stroke-width="3.2" />
<path d="M1363.45,446.50 L1363.45,447.50 L1363.46,448.50 L1363.46,449.50 L1363.47,450.50 L1363.49,451.50 L1363.51,452.50 L1363.53,453.50 L1363.55,454.50 L1363.58,455.50 L1363.61,456.50 L1363.65,457.50 L1363.69,458.50 L1363.76,459.50 L1363.96,460.50 L1364.25,461.50 L1364.60,462.50 L1364.98,463.50 L1365.36,464.50 L1365.75,465.50 L1366.20,466.50 L1366.68,467.50 L1367.20,468.50 L1367.73,469.50 L1368.28,470.50 L1368.84,471.50 L1369.39,472.50 L1369.96,473.50 L1370.54,474.50 L1371.14,475.50 L1371.75,476.50 L1372.38,477.50 L1373.01,478.50 L1373.66,479.50 L1374.33,480.50 L1375.01,481.50 L1375.71,482.50 L1376.42,483.50 L1377.13,484.50 L1377.84,485.50 L1378.54,486.50 L1379.25,487.50 L1379.97,488.50 L1380.69,489.50 L1381.40,490.50 L1382.12,491.50 L1382.82,492.50 L1383.50,493.50 L1384.20,494.50 L1384.93,495.50 L1385.66,496.50 L1386.36,497.50 L1387.02,498.50 L1387.60,499.50 L1388.08,500.50 L1388.47,501.50 L1388.85,502.50 L1389.21,503.50 L1389.56,504.50 L1389.87,505.50 L1390.13,506.50 L1390.33,507.50 L1390.45,508.50 L1390.50,509.50 L1390.47,510.50 L1390.37,511.50 L1390.23,512.50 L1390.04,513.50 L1389.83,514.50 L1389.59,515.50 L1389.35,516.50 L1389.07,517.50 L1388.70,518.50 L1388.25,519.50 L1387.76,520.50 L1387.23,521.50 L1386.70,522.50 L1386.19,523.50 L1385.72,524.50 L1385.25,525.50 L1384.79,526.50 L1384.32,527.50 L1383.84,528.50 L1383.33,529.50 L1382.80,530.50 L1382.22,531.50 L1381.59,532.50 L1380.90,533.50 L1380.18,534.50 L1379.44,535.50 L1378.69,536.50 L1377.95,537.50 L1377.23,538.50 L1376.53,539.50 L1375.82,540.50 L1375.12,541.50 L1374.42,542.50 L1373.73,543.50 L1373.04,544.50 L1372.37,545.50 L1371.69,546.50 L1370.98,547.50 L1370.28,548.50 L1369.59,549.50 L1368.94,550.50 L1368.33,551.50 L1367.79,552.50 L1367.32,553.50 L1366.88,554.50 L1366.46,555.50 L1366.06,556.50 L1365.71,557.50 L1365.39,558.50 L1365.13,559.50 L1364.92,560.50 L1364.74,561.50 L1364.57,562.50 L1364.42,563.50 L1364.28,564.50 L1364.17,565.50 L1364.07,566.50 L1363.99,567.50 L1363.93,568.50 L1363.86,569.50 L1363.80,570.50 L1363.74,571.50 L1363.68,572.50 L1363.63,573.50 L1363.59,574.50 L1363.55,575.50 L1363.51,576.50 L1363.49,577.50 L1363.47,578.50 L1363.45,579.50 L1363.45,580.40 L1363.15,580.40 L1363.15,579.50 L1363.13,578.50 L1363.11,577.50 L1363.09,576.50 L1363.05,575.50 L1363.01,574.50 L1362.97,573.50 L1362.92,572.50 L1362.86,571.50 L1362.80,570.50 L1362.74,569.50 L1362.67,568.50 L1362.61,567.50 L1362.53,566.50 L1362.43,565.50 L1362.32,564.50 L1362.18,563.50 L1362.03,562.50 L1361.86,561.50 L1361.68,560.50 L1361.47,559.50 L1361.21,558.50 L1360.89,557.50 L1360.54,556.50 L1360.14,555.50 L1359.72,554.50 L1359.28,553.50 L1358.81,552.50 L1358.27,551.50 L1357.66,550.50 L1357.01,549.50 L1356.32,548.50 L1355.62,547.50 L1354.91,546.50 L1354.23,545.50 L1353.56,544.50 L1352.87,543.50 L1352.18,542.50 L1351.48,541.50 L1350.78,540.50 L1350.07,539.50 L1349.37,538.50 L1348.65,537.50 L1347.91,536.50 L1347.16,535.50 L1346.42,534.50 L1345.70,533.50 L1345.01,532.50 L1344.38,531.50 L1343.80,530.50 L1343.27,529.50 L1342.76,528.50 L1342.28,527.50 L1341.81,526.50 L1341.35,525.50 L1340.88,524.50 L1340.41,523.50 L1339.90,522.50 L1339.37,521.50 L1338.84,520.50 L1338.35,519.50 L1337.90,518.50 L1337.53,517.50 L1337.25,516.50 L1337.01,515.50 L1336.77,514.50 L1336.56,513.50 L1336.37,512.50 L1336.23,511.50 L1336.13,510.50 L1336.10,509.50 L1336.15,508.50 L1336.27,507.50 L1336.47,506.50 L1336.73,505.50 L1337.04,504.50 L1337.39,503.50 L1337.75,502.50 L1338.13,501.50 L1338.52,500.50 L1339.00,499.50 L1339.58,498.50 L1340.24,497.50 L1340.94,496.50 L1341.67,495.50 L1342.40,494.50 L1343.10,493.50 L1343.78,492.50 L1344.48,491.50 L1345.20,490.50 L1345.91,489.50 L1346.63,488.50 L1347.35,487.50 L1348.06,486.50 L1348.76,485.50 L1349.47,484.50 L1350.18,483.50 L1350.89,482.50 L1351.59,481.50 L1352.27,480.50 L1352.94,479.50 L1353.59,478.50 L1354.22,477.50 L1354.85,476.50 L1355.46,475.50 L1356.06,474.50 L1356.64,473.50 L1357.21,472.50 L1357.76,471.50 L1358.32,470.50 L1358.87,469.50 L1359.40,468.50 L1359.92,467.50 L1360.40,466.50 L1360.85,465.50 L1361.24,464.50 L1361.62,463.50 L1362.00,462.50 L1362.35,461.50 L1362.64,460.50 L1362.84,459.50 L1362.91,458.50 L1362.95,457.50 L1362.99,456.50 L1363.02,455.50 L1363.05,454.50 L1363.07,453.50 L1363.09,452.50 L1363.11,451.50 L1363.13,450.50 L1363.14,449.50 L1363.14,448.50 L1363.15,447.50 L1363.15,446.50 Z" fill="#3c89bb" stroke="#333333" stroke-width="1.8" stroke-linejoin="round"/>
<line x1="1363.3" y1="468.2" x2="1363.3" y2="558.7" stroke="#333333" stroke-width="1.7" />
<rect x="1357.2" y="501.2" width="11.5" height="27.0" fill="#fff" stroke="#333333" stroke-width="1.6" />
<line x1="1357.2" y1="513.1" x2="1368.8" y2="513.1" stroke="#333333" stroke-width="3.2" />
<path d="M1424.85,442.30 L1424.85,443.30 L1424.85,444.30 L1424.85,445.30 L1424.85,446.30 L1424.86,447.30 L1424.86,448.30 L1424.86,449.30 L1424.87,450.30 L1424.88,451.30 L1424.88,452.30 L1424.89,453.30 L1424.90,454.30 L1424.91,455.30 L1424.92,456.30 L1424.93,457.30 L1424.94,458.30 L1424.95,459.30 L1424.97,460.30 L1424.98,461.30 L1425.00,462.30 L1425.02,463.30 L1425.04,464.30 L1425.06,465.30 L1425.08,466.30 L1425.11,467.30 L1425.22,468.30 L1425.44,469.30 L1425.74,470.30 L1426.09,471.30 L1426.47,472.30 L1426.84,473.30 L1427.25,474.30 L1427.72,475.30 L1428.26,476.30 L1428.83,477.30 L1429.42,478.30 L1430.02,479.30 L1430.61,480.30 L1431.18,481.30 L1431.71,482.30 L1432.21,483.30 L1432.71,484.30 L1433.20,485.30 L1433.69,486.30 L1434.18,487.30 L1434.68,488.30 L1435.20,489.30 L1435.73,490.30 L1436.30,491.30 L1436.88,492.30 L1437.49,493.30 L1438.11,494.30 L1438.74,495.30 L1439.38,496.30 L1440.02,497.30 L1440.66,498.30 L1441.30,499.30 L1441.95,500.30 L1442.61,501.30 L1443.29,502.30 L1443.97,503.30 L1444.64,504.30 L1445.30,505.30 L1445.94,506.30 L1446.55,507.30 L1447.13,508.30 L1447.77,509.30 L1448.44,510.30 L1449.11,511.30 L1449.75,512.30 L1450.32,513.30 L1450.79,514.30 L1451.13,515.30 L1451.29,516.30 L1451.29,517.30 L1451.23,518.30 L1451.13,519.30 L1451.00,520.30 L1450.84,521.30 L1450.66,522.30 L1450.46,523.30 L1450.22,524.30 L1449.83,525.30 L1449.33,526.30 L1448.73,527.30 L1448.07,528.30 L1447.37,529.30 L1446.66,530.30 L1445.96,531.30 L1445.30,532.30 L1444.66,533.30 L1443.99,534.30 L1443.31,535.30 L1442.62,536.30 L1441.92,537.30 L1441.23,538.30 L1440.55,539.30 L1439.89,540.30 L1439.25,541.30 L1438.61,542.30 L1437.98,543.30 L1437.35,544.30 L1436.74,545.30 L1436.13,546.30 L1435.55,547.30 L1434.99,548.30 L1434.45,549.30 L1433.94,550.30 L1433.44,551.30 L1432.95,552.30 L1432.47,553.30 L1432.00,554.30 L1431.54,555.30 L1431.11,556.30 L1430.70,557.30 L1430.31,558.30 L1429.94,559.30 L1429.60,560.30 L1429.27,561.30 L1428.95,562.30 L1428.64,563.30 L1428.34,564.30 L1428.06,565.30 L1427.79,566.30 L1427.54,567.30 L1427.32,568.30 L1427.11,569.30 L1426.93,570.30 L1426.77,571.30 L1426.62,572.30 L1426.48,573.30 L1426.35,574.30 L1426.23,575.30 L1426.12,576.30 L1426.03,577.30 L1425.95,578.30 L1425.89,579.30 L1425.83,580.30 L1425.77,581.30 L1425.72,582.30 L1425.67,583.30 L1425.61,584.30 L1425.56,585.30 L1425.51,586.30 L1425.46,587.30 L1425.41,588.30 L1425.37,589.30 L1425.32,590.30 L1425.28,591.30 L1425.24,592.30 L1425.20,593.30 L1425.16,594.30 L1425.13,595.30 L1425.09,596.30 L1425.06,597.30 L1425.03,598.30 L1425.00,599.30 L1424.98,600.30 L1424.96,601.30 L1424.93,602.30 L1424.92,603.30 L1424.90,604.30 L1424.88,605.30 L1424.87,606.30 L1424.86,607.30 L1424.86,608.30 L1424.85,609.30 L1424.85,610.30 L1424.85,610.40 L1424.55,610.40 L1424.55,610.30 L1424.55,609.30 L1424.54,608.30 L1424.54,607.30 L1424.53,606.30 L1424.52,605.30 L1424.50,604.30 L1424.48,603.30 L1424.47,602.30 L1424.44,601.30 L1424.42,600.30 L1424.40,599.30 L1424.37,598.30 L1424.34,597.30 L1424.31,596.30 L1424.27,595.30 L1424.24,594.30 L1424.20,593.30 L1424.16,592.30 L1424.12,591.30 L1424.08,590.30 L1424.03,589.30 L1423.99,588.30 L1423.94,587.30 L1423.89,586.30 L1423.84,585.30 L1423.79,584.30 L1423.73,583.30 L1423.68,582.30 L1423.63,581.30 L1423.57,580.30 L1423.51,579.30 L1423.45,578.30 L1423.37,577.30 L1423.28,576.30 L1423.17,575.30 L1423.05,574.30 L1422.92,573.30 L1422.78,572.30 L1422.63,571.30 L1422.47,570.30 L1422.29,569.30 L1422.08,568.30 L1421.86,567.30 L1421.61,566.30 L1421.34,565.30 L1421.06,564.30 L1420.76,563.30 L1420.45,562.30 L1420.13,561.30 L1419.80,560.30 L1419.46,559.30 L1419.09,558.30 L1418.70,557.30 L1418.29,556.30 L1417.86,555.30 L1417.40,554.30 L1416.93,553.30 L1416.45,552.30 L1415.96,551.30 L1415.46,550.30 L1414.95,549.30 L1414.41,548.30 L1413.85,547.30 L1413.27,546.30 L1412.66,545.30 L1412.05,544.30 L1411.42,543.30 L1410.79,542.30 L1410.15,541.30 L1409.51,540.30 L1408.85,539.30 L1408.17,538.30 L1407.48,537.30 L1406.78,536.30 L1406.09,535.30 L1405.41,534.30 L1404.74,533.30 L1404.10,532.30 L1403.44,531.30 L1402.74,530.30 L1402.03,529.30 L1401.33,528.30 L1400.67,527.30 L1400.07,526.30 L1399.57,525.30 L1399.18,524.30 L1398.94,523.30 L1398.74,522.30 L1398.56,521.30 L1398.40,520.30 L1398.27,519.30 L1398.17,518.30 L1398.11,517.30 L1398.11,516.30 L1398.27,515.30 L1398.61,514.30 L1399.08,513.30 L1399.65,512.30 L1400.29,511.30 L1400.96,510.30 L1401.63,509.30 L1402.27,508.30 L1402.85,507.30 L1403.46,506.30 L1404.10,505.30 L1404.76,504.30 L1405.43,503.30 L1406.11,502.30 L1406.79,501.30 L1407.45,500.30 L1408.10,499.30 L1408.74,498.30 L1409.38,497.30 L1410.02,496.30 L1410.66,495.30 L1411.29,494.30 L1411.91,493.30 L1412.52,492.30 L1413.10,491.30 L1413.67,490.30 L1414.20,489.30 L1414.72,488.30 L1415.22,487.30 L1415.71,486.30 L1416.20,485.30 L1416.69,484.30 L1417.19,483.30 L1417.69,482.30 L1418.22,481.30 L1418.79,480.30 L1419.38,479.30 L1419.98,478.30 L1420.57,477.30 L1421.14,476.30 L1421.68,475.30 L1422.15,474.30 L1422.56,473.30 L1422.93,472.30 L1423.31,471.30 L1423.66,470.30 L1423.96,469.30 L1424.18,468.30 L1424.29,467.30 L1424.32,466.30 L1424.34,465.30 L1424.36,464.30 L1424.38,463.30 L1424.40,462.30 L1424.42,461.30 L1424.43,460.30 L1424.45,459.30 L1424.46,458.30 L1424.47,457.30 L1424.48,456.30 L1424.49,455.30 L1424.50,454.30 L1424.51,453.30 L1424.52,452.30 L1424.52,451.30 L1424.53,450.30 L1424.54,449.30 L1424.54,448.30 L1424.54,447.30 L1424.55,446.30 L1424.55,445.30 L1424.55,444.30 L1424.55,443.30 L1424.55,442.30 Z" fill="#792b7a" stroke="#333333" stroke-width="1.8" stroke-linejoin="round"/>
<line x1="1424.7" y1="442.3" x2="1424.7" y2="610.4" stroke="#333333" stroke-width="1.7" />
<circle cx="1424.7" cy="461.9" r="4.7" fill="#333333"/>
<circle cx="1424.7" cy="585.0" r="4.7" fill="#333333"/>
<circle cx="1424.7" cy="590.0" r="4.7" fill="#333333"/>
<rect x="1419.2" y="509.1" width="10.7" height="28.5" fill="#fff" stroke="#333333" stroke-width="1.6" />
<line x1="1419.2" y1="521.8" x2="1429.8" y2="521.8" stroke="#333333" stroke-width="3.2" />
<path d="M1486.15,437.30 L1486.15,438.30 L1486.15,439.30 L1486.15,440.30 L1486.15,441.30 L1486.15,442.30 L1486.16,443.30 L1486.16,444.30 L1486.16,445.30 L1486.16,446.30 L1486.17,447.30 L1486.17,448.30 L1486.17,449.30 L1486.18,450.30 L1486.18,451.30 L1486.19,452.30 L1486.20,453.30 L1486.20,454.30 L1486.21,455.30 L1486.22,456.30 L1486.23,457.30 L1486.24,458.30 L1486.25,459.30 L1486.26,460.30 L1486.27,461.30 L1486.28,462.30 L1486.29,463.30 L1486.31,464.30 L1486.32,465.30 L1486.34,466.30 L1486.35,467.30 L1486.37,468.30 L1486.39,469.30 L1486.41,470.30 L1486.55,471.30 L1486.78,472.30 L1487.06,473.30 L1487.32,474.30 L1487.53,475.30 L1487.62,476.30 L1487.66,477.30 L1487.68,478.30 L1487.70,479.30 L1487.72,480.30 L1487.76,481.30 L1487.82,482.30 L1488.06,483.30 L1488.52,484.30 L1489.13,485.30 L1489.83,486.30 L1490.57,487.30 L1491.26,488.30 L1491.87,489.30 L1492.47,490.30 L1493.08,491.30 L1493.69,492.30 L1494.30,493.30 L1494.92,494.30 L1495.52,495.30 L1496.11,496.30 L1496.68,497.30 L1497.22,498.30 L1497.74,499.30 L1498.25,500.30 L1498.74,501.30 L1499.22,502.30 L1499.71,503.30 L1500.20,504.30 L1500.71,505.30 L1501.25,506.30 L1501.80,507.30 L1502.39,508.30 L1502.99,509.30 L1503.60,510.30 L1504.22,511.30 L1504.84,512.30 L1505.45,513.30 L1506.04,514.30 L1506.61,515.30 L1507.21,516.30 L1507.83,517.30 L1508.45,518.30 L1509.07,519.30 L1509.65,520.30 L1510.17,521.30 L1510.63,522.30 L1510.99,523.30 L1511.26,524.30 L1511.51,525.30 L1511.76,526.30 L1511.98,527.30 L1512.18,528.30 L1512.35,529.30 L1512.48,530.30 L1512.57,531.30 L1512.60,532.30 L1512.54,533.30 L1512.37,534.30 L1512.08,535.30 L1511.72,536.30 L1511.30,537.30 L1510.83,538.30 L1510.35,539.30 L1509.87,540.30 L1509.41,541.30 L1508.92,542.30 L1508.39,543.30 L1507.82,544.30 L1507.21,545.30 L1506.58,546.30 L1505.94,547.30 L1505.28,548.30 L1504.63,549.30 L1503.97,550.30 L1503.28,551.30 L1502.57,552.30 L1501.84,553.30 L1501.10,554.30 L1500.37,555.30 L1499.64,556.30 L1498.94,557.30 L1498.27,558.30 L1497.62,559.30 L1496.99,560.30 L1496.36,561.30 L1495.75,562.30 L1495.16,563.30 L1494.57,564.30 L1494.00,565.30 L1493.44,566.30 L1492.89,567.30 L1492.34,568.30 L1491.78,569.30 L1491.23,570.30 L1490.69,571.30 L1490.18,572.30 L1489.70,573.30 L1489.26,574.30 L1488.87,575.30 L1488.54,576.30 L1488.22,577.30 L1487.91,578.30 L1487.63,579.30 L1487.39,580.30 L1487.19,581.30 L1487.04,582.30 L1486.95,583.30 L1486.86,584.30 L1486.78,585.30 L1486.70,586.30 L1486.63,587.30 L1486.56,588.30 L1486.50,589.30 L1486.44,590.30 L1486.38,591.30 L1486.34,592.30 L1486.29,593.30 L1486.25,594.30 L1486.22,595.30 L1486.20,596.30 L1486.17,597.30 L1486.16,598.30 L1486.15,599.30 L1486.15,600.10 L1485.85,600.10 L1485.85,599.30 L1485.84,598.30 L1485.83,597.30 L1485.80,596.30 L1485.78,595.30 L1485.75,594.30 L1485.71,593.30 L1485.66,592.30 L1485.62,591.30 L1485.56,590.30 L1485.50,589.30 L1485.44,588.30 L1485.37,587.30 L1485.30,586.30 L1485.22,585.30 L1485.14,584.30 L1485.05,583.30 L1484.96,582.30 L1484.81,581.30 L1484.61,580.30 L1484.37,579.30 L1484.09,578.30 L1483.78,577.30 L1483.46,576.30 L1483.13,575.30 L1482.74,574.30 L1482.30,573.30 L1481.82,572.30 L1481.31,571.30 L1480.77,570.30 L1480.22,569.30 L1479.66,568.30 L1479.11,567.30 L1478.56,566.30 L1478.00,565.30 L1477.43,564.30 L1476.84,563.30 L1476.25,562.30 L1475.64,561.30 L1475.01,560.30 L1474.38,559.30 L1473.73,558.30 L1473.06,557.30 L1472.36,556.30 L1471.63,555.30 L1470.90,554.30 L1470.16,553.30 L1469.43,552.30 L1468.72,551.30 L1468.03,550.30 L1467.37,549.30 L1466.72,548.30 L1466.06,547.30 L1465.42,546.30 L1464.79,545.30 L1464.18,544.30 L1463.61,543.30 L1463.08,542.30 L1462.59,541.30 L1462.13,540.30 L1461.65,539.30 L1461.17,538.30 L1460.70,537.30 L1460.28,536.30 L1459.92,535.30 L1459.63,534.30 L1459.46,533.30 L1459.40,532.30 L1459.43,531.30 L1459.52,530.30 L1459.65,529.30 L1459.82,528.30 L1460.02,527.30 L1460.24,526.30 L1460.49,525.30 L1460.74,524.30 L1461.01,523.30 L1461.37,522.30 L1461.83,521.30 L1462.35,520.30 L1462.93,519.30 L1463.55,518.30 L1464.17,517.30 L1464.79,516.30 L1465.39,515.30 L1465.96,514.30 L1466.55,513.30 L1467.16,512.30 L1467.78,511.30 L1468.40,510.30 L1469.01,509.30 L1469.61,508.30 L1470.20,507.30 L1470.75,506.30 L1471.29,505.30 L1471.80,504.30 L1472.29,503.30 L1472.78,502.30 L1473.26,501.30 L1473.75,500.30 L1474.26,499.30 L1474.78,498.30 L1475.32,497.30 L1475.89,496.30 L1476.48,495.30 L1477.08,494.30 L1477.70,493.30 L1478.31,492.30 L1478.92,491.30 L1479.53,490.30 L1480.13,489.30 L1480.74,488.30 L1481.43,487.30 L1482.17,486.30 L1482.87,485.30 L1483.48,484.30 L1483.94,483.30 L1484.18,482.30 L1484.24,481.30 L1484.28,480.30 L1484.30,479.30 L1484.32,478.30 L1484.34,477.30 L1484.38,476.30 L1484.47,475.30 L1484.68,474.30 L1484.94,473.30 L1485.22,472.30 L1485.45,471.30 L1485.59,470.30 L1485.61,469.30 L1485.63,468.30 L1485.65,467.30 L1485.66,466.30 L1485.68,465.30 L1485.69,464.30 L1485.71,463.30 L1485.72,462.30 L1485.73,461.30 L1485.74,460.30 L1485.75,459.30 L1485.76,458.30 L1485.77,457.30 L1485.78,456.30 L1485.79,455.30 L1485.80,454.30 L1485.80,453.30 L1485.81,452.30 L1485.82,451.30 L1485.82,450.30 L1485.83,449.30 L1485.83,448.30 L1485.83,447.30 L1485.84,446.30 L1485.84,445.30 L1485.84,444.30 L1485.84,443.30 L1485.85,442.30 L1485.85,441.30 L1485.85,440.30 L1485.85,439.30 L1485.85,438.30 L1485.85,437.30 Z" fill="#e42e35" stroke="#333333" stroke-width="1.8" stroke-linejoin="round"/>
<line x1="1486.0" y1="437.3" x2="1486.0" y2="600.1" stroke="#333333" stroke-width="1.7" />
<circle cx="1486.0" cy="457.4" r="4.7" fill="#333333"/>
<circle cx="1486.0" cy="466.1" r="4.7" fill="#333333"/>
<rect x="1480.2" y="516.6" width="12.0" height="28.6" fill="#fff" stroke="#333333" stroke-width="1.6" />
<line x1="1480.2" y1="530.3" x2="1492.2" y2="530.3" stroke="#333333" stroke-width="3.2" />
<text x="1108.5" y="298.3" text-anchor="middle" >REF</text>
<text x="1170.5" y="298.3" text-anchor="middle" >HET</text>
<text x="1231.5" y="298.3" text-anchor="middle" >ALT</text>
<text x="1363.0" y="298.3" text-anchor="middle" >REF</text>
<text x="1424.5" y="298.3" text-anchor="middle" >HET</text>
<text x="1486.5" y="298.3" text-anchor="middle" >ALT</text>
<text x="1108.5" y="655.1" text-anchor="middle" >REF</text>
<text x="1170.5" y="655.1" text-anchor="middle" >HET</text>
<text x="1231.5" y="655.1" text-anchor="middle" >ALT</text>
<text x="1363.0" y="655.1" text-anchor="middle" >REF</text>
<text x="1424.5" y="655.1" text-anchor="middle" >HET</text>
<text x="1486.5" y="655.1" text-anchor="middle" >ALT</text>
<text x="1041.5" y="331.7" style="fill:#2a9bc1" >N:</text>
<text x="1108.5" y="331.7" text-anchor="middle" style="fill:#2a9bc1" >(131)</text>
<text x="1171.0" y="331.7" text-anchor="middle" style="fill:#2a9bc1" >(328)</text>
<text x="1234.5" y="331.7" text-anchor="middle" style="fill:#2a9bc1" >(245)</text>
<text x="1362.0" y="331.7" text-anchor="middle" style="fill:#2a9bc1" >(77)</text>
<text x="1425.0" y="331.7" text-anchor="middle" style="fill:#2a9bc1" >(174)</text>
<text x="1486.5" y="331.7" text-anchor="middle" style="fill:#2a9bc1" >(134)</text>
<text x="1046.5" y="686.5" style="fill:#2a9bc1" >N:</text>
<text x="1108.5" y="686.5" text-anchor="middle" style="fill:#2a9bc1" >(37)</text>
<text x="1170.6" y="686.5" text-anchor="middle" style="fill:#2a9bc1" >(103)</text>
<text x="1231.5" y="686.5" text-anchor="middle" style="fill:#2a9bc1" >(68)</text>
<text x="1363.4" y="686.5" text-anchor="middle" style="fill:#2a9bc1" >(104)</text>
<text x="1424.9" y="686.5" text-anchor="middle" style="fill:#2a9bc1" >(255)</text>
<text x="1486.0" y="686.5" text-anchor="middle" style="fill:#2a9bc1" >(213)</text>
<text x="984.0" y="369.5" style="fill:#e8472d;font-style:italic" >P</text>
<text x="1009.6" y="369.5" style="fill:#e8472d" >value:</text>
<text x="1116.0" y="369.5" style="fill:#e8472d">1.1 × 10<tspan dy="-11" style="font-size:16.5px">−68</tspan></text>
<text x="1365.5" y="369.5" style="fill:#e8472d">3.4 × 10<tspan dy="-11" style="font-size:16.5px">−11</tspan></text>
<text x="992.5" y="724.0" style="fill:#e8472d;font-style:italic" >P</text>
<text x="1018.1" y="724.0" style="fill:#e8472d" >value:</text>
<text x="1123.0" y="724.0" style="fill:#e8472d">7.7 × 10<tspan dy="-11" style="font-size:16.5px">−26</tspan></text>
<text x="1379.0" y="724.0" style="fill:#e8472d">1.2 × 10<tspan dy="-11" style="font-size:16.5px">−50</tspan></text>
<text transform="translate(1569.5 24.6) scale(1.05 1)" x="0" y="0" style="font-size:32px;font-weight:bold">d</text>
<text x="1855.0" y="51.2" text-anchor="middle" >Cox7a2l:rs4181</text>
<rect x="1768.5" y="73.2" width="345.7" height="704.1" fill="#fff" />
<line x1="1778.7" y1="73.2" x2="1778.7" y2="777.3" stroke="#efefef" stroke-width="1.4" />
<line x1="1853.5" y1="73.2" x2="1853.5" y2="777.3" stroke="#efefef" stroke-width="1.4" />
<line x1="1928.4" y1="73.2" x2="1928.4" y2="777.3" stroke="#efefef" stroke-width="1.4" />
<line x1="2003.2" y1="73.2" x2="2003.2" y2="777.3" stroke="#efefef" stroke-width="1.4" />
<line x1="2078.1" y1="73.2" x2="2078.1" y2="777.3" stroke="#efefef" stroke-width="1.4" />
<line x1="1816.1" y1="73.2" x2="1816.1" y2="777.3" stroke="#ebebeb" stroke-width="2.6" />
<line x1="1891.0" y1="73.2" x2="1891.0" y2="777.3" stroke="#ebebeb" stroke-width="2.6" />
<line x1="1965.8" y1="73.2" x2="1965.8" y2="777.3" stroke="#ebebeb" stroke-width="2.6" />
<line x1="2040.6" y1="73.2" x2="2040.6" y2="777.3" stroke="#ebebeb" stroke-width="2.6" />
<line x1="1768.5" y1="95.5" x2="2114.2" y2="95.5" stroke="#ebebeb" stroke-width="2.6" />
<line x1="1768.5" y1="132.2" x2="2114.2" y2="132.2" stroke="#ebebeb" stroke-width="2.6" />
<line x1="1768.5" y1="168.9" x2="2114.2" y2="168.9" stroke="#ebebeb" stroke-width="2.6" />
<line x1="1768.5" y1="205.5" x2="2114.2" y2="205.5" stroke="#ebebeb" stroke-width="2.6" />
<line x1="1768.5" y1="242.2" x2="2114.2" y2="242.2" stroke="#ebebeb" stroke-width="2.6" />
<line x1="1768.5" y1="278.8" x2="2114.2" y2="278.8" stroke="#ebebeb" stroke-width="2.6" />
<line x1="1768.5" y1="315.5" x2="2114.2" y2="315.5" stroke="#ebebeb" stroke-width="2.6" />
<line x1="1768.5" y1="352.1" x2="2114.2" y2="352.1" stroke="#ebebeb" stroke-width="2.6" />
<line x1="1768.5" y1="388.8" x2="2114.2" y2="388.8" stroke="#ebebeb" stroke-width="2.6" />
<line x1="1768.5" y1="425.5" x2="2114.2" y2="425.5" stroke="#ebebeb" stroke-width="2.6" />
<line x1="1768.5" y1="462.1" x2="2114.2" y2="462.1" stroke="#ebebeb" stroke-width="2.6" />
<line x1="1768.5" y1="498.8" x2="2114.2" y2="498.8" stroke="#ebebeb" stroke-width="2.6" />
<line x1="1768.5" y1="535.4" x2="2114.2" y2="535.4" stroke="#ebebeb" stroke-width="2.6" />
<line x1="1768.5" y1="572.1" x2="2114.2" y2="572.1" stroke="#ebebeb" stroke-width="2.6" />
<line x1="1768.5" y1="608.7" x2="2114.2" y2="608.7" stroke="#ebebeb" stroke-width="2.6" />
<line x1="1768.5" y1="645.4" x2="2114.2" y2="645.4" stroke="#ebebeb" stroke-width="2.6" />
<line x1="1768.5" y1="682.1" x2="2114.2" y2="682.1" stroke="#ebebeb" stroke-width="2.6" />
<line x1="1768.5" y1="718.7" x2="2114.2" y2="718.7" stroke="#ebebeb" stroke-width="2.6" />
<line x1="1768.5" y1="755.4" x2="2114.2" y2="755.4" stroke="#ebebeb" stroke-width="2.6" />
<line x1="1965.8" y1="73.2" x2="1965.8" y2="777.3" stroke="#000" stroke-width="2.0" stroke-dasharray="12.2,11.3" stroke-dashoffset="16"/>
<line x1="1760.8" y1="95.5" x2="1768.5" y2="95.5" stroke="#333333" stroke-width="1.2" />
<text x="1750.3" y="105.0" text-anchor="end" >Muscle</text>
<line x1="1760.8" y1="132.2" x2="1768.5" y2="132.2" stroke="#333333" stroke-width="1.2" />
<text x="1750.3" y="141.6" text-anchor="end" >Thyroid</text>
<line x1="1760.8" y1="168.9" x2="1768.5" y2="168.9" stroke="#333333" stroke-width="1.2" />
<text x="1750.3" y="178.3" text-anchor="end" >Testis</text>
<line x1="1760.8" y1="205.5" x2="1768.5" y2="205.5" stroke="#333333" stroke-width="1.2" />
<text x="1750.3" y="214.9" text-anchor="end" >Esophagus Muc</text>
<line x1="1760.8" y1="242.2" x2="1768.5" y2="242.2" stroke="#333333" stroke-width="1.2" />
<text x="1750.3" y="251.6" text-anchor="end" >Liver</text>
<line x1="1760.8" y1="278.8" x2="1768.5" y2="278.8" stroke="#333333" stroke-width="1.2" />
<text x="1750.3" y="288.2" text-anchor="end" >Colon</text>
<line x1="1760.8" y1="315.5" x2="1768.5" y2="315.5" stroke="#333333" stroke-width="1.2" />
<text x="1750.3" y="324.9" text-anchor="end" >Adipose S</text>
<line x1="1760.8" y1="352.1" x2="1768.5" y2="352.1" stroke="#333333" stroke-width="1.2" />
<text x="1750.3" y="361.5" text-anchor="end" >Brain C</text>
<line x1="1760.8" y1="388.8" x2="1768.5" y2="388.8" stroke="#333333" stroke-width="1.2" />
<text x="1750.3" y="398.2" text-anchor="end" >Ileum</text>
<line x1="1760.8" y1="425.5" x2="1768.5" y2="425.5" stroke="#333333" stroke-width="1.2" />
<text x="1750.3" y="434.9" text-anchor="end" >Spleen</text>
<line x1="1760.8" y1="462.1" x2="1768.5" y2="462.1" stroke="#333333" stroke-width="1.2" />
<text x="1750.3" y="471.5" text-anchor="end" >Heart LV</text>
<line x1="1760.8" y1="498.8" x2="1768.5" y2="498.8" stroke="#333333" stroke-width="1.2" />
<text x="1750.3" y="508.2" text-anchor="end" >Brain FC</text>
<line x1="1760.8" y1="535.4" x2="1768.5" y2="535.4" stroke="#333333" stroke-width="1.2" />
<text x="1750.3" y="544.8" text-anchor="end" >Skin SE</text>
<line x1="1760.8" y1="572.1" x2="1768.5" y2="572.1" stroke="#333333" stroke-width="1.2" />
<text x="1750.3" y="581.5" text-anchor="end" >Prostate</text>
<line x1="1760.8" y1="608.7" x2="1768.5" y2="608.7" stroke="#333333" stroke-width="1.2" />
<text x="1750.3" y="618.1" text-anchor="end" >Pancreas</text>
<line x1="1760.8" y1="645.4" x2="1768.5" y2="645.4" stroke="#333333" stroke-width="1.2" />
<text x="1750.3" y="654.8" text-anchor="end" >Breast</text>
<line x1="1760.8" y1="682.1" x2="1768.5" y2="682.1" stroke="#333333" stroke-width="1.2" />
<text x="1750.3" y="691.5" text-anchor="end" >Heart AA</text>
<line x1="1760.8" y1="718.7" x2="1768.5" y2="718.7" stroke="#333333" stroke-width="1.2" />
<text x="1750.3" y="728.1" text-anchor="end" >Adipose V</text>
<line x1="1760.8" y1="755.4" x2="1768.5" y2="755.4" stroke="#333333" stroke-width="1.2" />
<text x="1750.3" y="764.8" text-anchor="end" >Fibroblasts</text>
<circle cx="2098.3" cy="95.5" r="19.4" fill="#e8282e"/>
<circle cx="1870.3" cy="132.2" r="16.9" fill="#3c89bb"/>
<circle cx="1863.1" cy="168.9" r="13.7" fill="#3c89bb"/>
<circle cx="1883.6" cy="205.5" r="13.5" fill="#3c89bb"/>
<circle cx="1783.8" cy="242.2" r="13.0" fill="#3c89bb"/>
<circle cx="1869.2" cy="278.8" r="12.7" fill="#3c89bb"/>
<circle cx="1906.8" cy="315.5" r="10.4" fill="#3c89bb"/>
<circle cx="1886.2" cy="352.1" r="10.3" fill="#3c89bb"/>
<circle cx="1877.5" cy="388.8" r="10.0" fill="#3c89bb"/>
<circle cx="1885.6" cy="425.5" r="9.4" fill="#3c89bb"/>
<circle cx="2007.8" cy="462.1" r="9.3" fill="#e8282e"/>
<circle cx="1903.3" cy="498.8" r="9.3" fill="#3c89bb"/>
<circle cx="1917.5" cy="535.4" r="9.3" fill="#3c89bb"/>
<circle cx="1884.2" cy="572.1" r="9.3" fill="#3c89bb"/>
<circle cx="1892.0" cy="608.7" r="9.1" fill="#3c89bb"/>
<circle cx="1918.3" cy="645.4" r="9.1" fill="#3c89bb"/>
<circle cx="2015.9" cy="682.1" r="9.0" fill="#e8282e"/>
<circle cx="1931.1" cy="718.7" r="5.8" fill="#3c89bb"/>
<circle cx="1988.4" cy="755.4" r="4.8" fill="#e8282e"/>
<rect x="1768.5" y="73.2" width="345.7" height="704.1" fill="none" stroke="#333333" stroke-width="1.1" />
<line x1="1816.1" y1="777.3" x2="1816.1" y2="784.7" stroke="#333333" stroke-width="1.2" />
<text x="1813.9" y="812.9" text-anchor="middle" >–0.50</text>
<line x1="1891.0" y1="777.3" x2="1891.0" y2="784.7" stroke="#333333" stroke-width="1.2" />
<text x="1888.8" y="812.9" text-anchor="middle" >–0.25</text>
<line x1="1965.8" y1="777.3" x2="1965.8" y2="784.7" stroke="#333333" stroke-width="1.2" />
<text x="1965.8" y="812.9" text-anchor="middle" >0</text>
<line x1="2040.6" y1="777.3" x2="2040.6" y2="784.7" stroke="#333333" stroke-width="1.2" />
<text x="2040.6" y="812.9" text-anchor="middle" >0.25</text>
<text x="1942.5" y="847.6" text-anchor="middle" >NES</text>
<text x="1797" y="891.5">–log<tspan dy="7" style="font-size:17px">10</tspan><tspan dy="-7" dx="1">(</tspan><tspan style="font-style:italic">P</tspan>)</text>
<circle cx="1794.5" cy="926.6" r="12.2" fill="#000"/>
<text x="1833.3" y="935.6" >20</text>
<circle cx="1794.5" cy="970.3" r="16.0" fill="#000"/>
<text x="1833.3" y="979.5" >40</text>
<circle cx="1794.5" cy="1018.0" r="18.7" fill="#000"/>
<text x="1833.3" y="1026.7" >60</text>
<text x="1999.0" y="893.8" >NES</text>
<circle cx="1997.6" cy="922.1" r="6.6" fill="#3c89bb"/>
<text x="2016.0" y="931.1" >Negative</text>
<circle cx="1997.6" cy="953.3" r="6.6" fill="#e8282e"/>
<text x="2016.0" y="962.2" >Positive</text>
<text x="0.5" y="360.0" style="font-size:32px;font-weight:bold" >e</text>
<text x="123.4" y="403.1" text-anchor="middle" >SV40</text>
<text x="127.2" y="433.1" text-anchor="middle" >promoter</text>
<text x="331.5" y="403.1" style="font-style:italic" >COX7A2L</text>
<text x="449.0" y="403.1" >3<tspan dx="1">′</tspan><tspan dx="1.8"> UTR</tspan></text>
<text x="429.5" y="433.0" text-anchor="middle" >100-bp fragment</text>
<text x="23.0" y="476.6" >REF</text>
<text x="23.5" y="559.0" >ALT</text>
<polygon points="94.1,456.5 138.8,456.5 138.8,447.2 182.0,470.0 138.8,492.9 138.8,483.7 94.1,483.7" fill="#939393"/>
<polygon points="182.7,455.0 353.3,455.0 353.3,446.6 396.5,469.3 353.3,492.0 353.3,483.3 182.7,483.3" fill="#f9e63a"/>
<polygon points="98.7,534.3 144.4,534.3 144.4,525.0 187.3,548.1 144.4,571.3 144.4,562.0 98.7,562.0" fill="#939393"/>
<polygon points="187.6,533.0 358.8,533.0 358.8,524.4 402.0,547.2 358.8,570.0 358.8,560.8 187.6,560.8" fill="#f9e63a"/>
<text x="276.5" y="477.2" text-anchor="middle" style="font-style:italic" >Luciferase</text>
<text x="281.7" y="555.6" text-anchor="middle" style="font-style:italic" >Luciferase</text>
<rect x="399.0" y="455.0" width="62.3" height="28.3" fill="#3c89bb" />
<rect x="403.6" y="533.0" width="72.2" height="27.8" fill="#3c89bb" />
<rect x="433.5" y="533.0" width="12.3" height="27.8" fill="#e8282e" />
<line x1="433.8" y1="560.8" x2="373.3" y2="613.2" stroke="#222" stroke-width="1.6" />
<line x1="445.5" y1="560.8" x2="507.6" y2="612.3" stroke="#222" stroke-width="1.6" />
<text x="360.0" y="635.5" >AAATACACAC</text>
<text x="600.5" y="359.8" style="font-size:32px;font-weight:bold" >f</text>
<line x1="731.4" y1="394.5" x2="731.4" y2="591.2" stroke="#000" stroke-width="1.5" />
<line x1="726.1" y1="591.2" x2="892.9" y2="591.2" stroke="#000" stroke-width="1.5" />
<line x1="726.1" y1="394.5" x2="731.4" y2="394.5" stroke="#000" stroke-width="1.5" />
<text x="716.3" y="403.4" text-anchor="end" >0.80</text>
<line x1="726.1" y1="433.8" x2="731.4" y2="433.8" stroke="#000" stroke-width="1.5" />
<text x="716.3" y="442.7" text-anchor="end" >0.75</text>
<line x1="726.1" y1="473.2" x2="731.4" y2="473.2" stroke="#000" stroke-width="1.5" />
<text x="716.3" y="482.1" text-anchor="end" >0.70</text>
<line x1="726.1" y1="512.5" x2="731.4" y2="512.5" stroke="#000" stroke-width="1.5" />
<text x="716.3" y="521.4" text-anchor="end" >0.65</text>
<line x1="726.1" y1="551.9" x2="731.4" y2="551.9" stroke="#000" stroke-width="1.5" />
<text x="716.3" y="560.8" text-anchor="end" >0.60</text>
<line x1="726.1" y1="591.2" x2="731.4" y2="591.2" stroke="#000" stroke-width="1.5" />
<text x="716.3" y="600.1" text-anchor="end" >0.55</text>
<text x="640.9" y="492.4" text-anchor="middle" style="font-size:24.9px" transform="rotate(-90 640.9 492.45)">Relative luminescence</text>
<path d="M740.9,591.2 L740.9,517.4 L775.5,517.4 L775.5,591.2" fill="none" stroke="#000" stroke-width="2.0" />
<path d="M794.8,591.2 L794.8,515.6 L829.4,515.6 L829.4,591.2" fill="none" stroke="#2e7eb9" stroke-width="2.0" />
<path d="M849.1,591.2 L849.1,442.0 L883.5,442.0 L883.5,591.2" fill="none" stroke="#e6161f" stroke-width="2.0" />
<line x1="758.3" y1="490.5" x2="758.3" y2="541.9" stroke="#000" stroke-width="2.0" />
<line x1="749.2" y1="490.5" x2="767.6" y2="490.5" stroke="#000" stroke-width="2.0" />
<line x1="749.2" y1="541.9" x2="767.6" y2="541.9" stroke="#000" stroke-width="2.0" />
<line x1="812.0" y1="502.7" x2="812.0" y2="527.5" stroke="#2e7eb9" stroke-width="2.0" />
<line x1="802.6" y1="502.7" x2="821.3" y2="502.7" stroke="#2e7eb9" stroke-width="2.0" />
<line x1="802.6" y1="527.5" x2="821.3" y2="527.5" stroke="#2e7eb9" stroke-width="2.0" />
<line x1="866.3" y1="436.1" x2="866.3" y2="445.4" stroke="#e6161f" stroke-width="2.0" />
<line x1="857.0" y1="436.1" x2="875.6" y2="436.1" stroke="#e6161f" stroke-width="2.0" />
<line x1="857.0" y1="445.4" x2="875.6" y2="445.4" stroke="#e6161f" stroke-width="2.0" />
<circle cx="752.1" cy="479.1" r="4.0" fill="none" stroke="#000" stroke-width="1.6"/>
<circle cx="764.3" cy="488.0" r="4.0" fill="none" stroke="#000" stroke-width="1.6"/>
<circle cx="746.5" cy="515.3" r="4.0" fill="none" stroke="#000" stroke-width="1.6"/>
<circle cx="758.7" cy="515.3" r="4.0" fill="none" stroke="#000" stroke-width="1.6"/>
<circle cx="770.9" cy="515.3" r="4.0" fill="none" stroke="#000" stroke-width="1.6"/>
<circle cx="752.1" cy="523.5" r="4.0" fill="none" stroke="#000" stroke-width="1.6"/>
<circle cx="764.3" cy="531.3" r="4.0" fill="none" stroke="#000" stroke-width="1.6"/>
<circle cx="758.7" cy="563.0" r="4.0" fill="none" stroke="#000" stroke-width="1.6"/>
<circle cx="812.0" cy="439.2" r="4.0" fill="none" stroke="#2e7eb9" stroke-width="1.6"/>
<circle cx="812.0" cy="500.9" r="4.0" fill="none" stroke="#2e7eb9" stroke-width="1.6"/>
<circle cx="798.6" cy="517.5" r="4.0" fill="none" stroke="#2e7eb9" stroke-width="1.6"/>
<circle cx="825.9" cy="516.9" r="4.0" fill="none" stroke="#2e7eb9" stroke-width="1.6"/>
<circle cx="806.4" cy="524.2" r="4.0" fill="none" stroke="#2e7eb9" stroke-width="1.6"/>
<circle cx="817.1" cy="523.1" r="4.0" fill="none" stroke="#2e7eb9" stroke-width="1.6"/>
<circle cx="812.0" cy="538.6" r="4.0" fill="none" stroke="#2e7eb9" stroke-width="1.6"/>
<circle cx="812.0" cy="558.1" r="4.0" fill="none" stroke="#2e7eb9" stroke-width="1.6"/>
<circle cx="854.0" cy="427.2" r="4.0" fill="none" stroke="#e6161f" stroke-width="1.6"/>
<circle cx="866.1" cy="429.5" r="4.0" fill="none" stroke="#e6161f" stroke-width="1.6"/>
<circle cx="878.1" cy="428.2" r="4.0" fill="none" stroke="#e6161f" stroke-width="1.6"/>
<circle cx="860.0" cy="435.4" r="4.0" fill="none" stroke="#e6161f" stroke-width="1.6"/>
<circle cx="872.3" cy="442.4" r="4.0" fill="none" stroke="#e6161f" stroke-width="1.6"/>
<circle cx="854.0" cy="449.2" r="4.0" fill="none" stroke="#e6161f" stroke-width="1.6"/>
<circle cx="878.1" cy="456.5" r="4.0" fill="none" stroke="#e6161f" stroke-width="1.6"/>
<circle cx="866.1" cy="459.3" r="4.0" fill="none" stroke="#e6161f" stroke-width="1.6"/>
<text x="771.0" y="354.2" style="font-size:20.4px"><tspan style="font-style:italic">P</tspan> &lt; 0.0001</text>
<line x1="768.3" y1="362.8" x2="871.8" y2="362.8" stroke="#000" stroke-width="1.8" />
<text x="796.0" y="389.4" style="font-size:20.4px"><tspan style="font-style:italic">P</tspan> &lt; 0.0001</text>
<line x1="824.9" y1="396.0" x2="878.9" y2="396.0" stroke="#000" stroke-width="1.8" />
<text x="735.0" y="419.2" style="font-size:20.4px"><tspan style="font-style:italic">P</tspan> = 0.9929</text>
<line x1="757.6" y1="428.1" x2="811.5" y2="428.1" stroke="#000" stroke-width="1.8" />
<rect x="730.0" y="613.1" width="25.4" height="17.3" fill="none" stroke="#000" stroke-width="2.1" />
<text x="766.5" y="627.5" >Empty</text>
<rect x="730.0" y="642.5" width="25.4" height="17.3" fill="none" stroke="#2e7eb9" stroke-width="2.1" />
<text x="766.5" y="659.6" >3′ UTR REF</text>
<rect x="730.0" y="671.9" width="25.4" height="17.3" fill="none" stroke="#e6161f" stroke-width="2.1" />
<text x="766.5" y="688.9" >3′ UTR ALT</text>
<text transform="translate(29.7 687.5) scale(1.13 1)" x="0" y="0" style="font-size:32px;font-weight:bold;font-family:'Liberation Serif',serif">g</text>
<text x="85.3" y="697.8" style="font-size:20.9px">Genotype <tspan style="font-style:italic">P</tspan> = 0.0720</text>
<text x="85.3" y="722.8" style="font-size:20.9px">Time <tspan style="font-style:italic">P</tspan> = 0.0026</text>
<line x1="157.7" y1="751.1" x2="157.7" y2="947.9" stroke="#333" stroke-width="1.4" />
<line x1="152.6" y1="947.9" x2="360.2" y2="947.9" stroke="#333" stroke-width="1.4" />
<line x1="152.6" y1="751.1" x2="157.7" y2="751.1" stroke="#333" stroke-width="1.4" />
<text x="142.5" y="759.3" text-anchor="end" >1.1</text>
<line x1="152.6" y1="790.5" x2="157.7" y2="790.5" stroke="#333" stroke-width="1.4" />
<text x="142.5" y="798.7" text-anchor="end" >1.0</text>
<line x1="152.6" y1="829.8" x2="157.7" y2="829.8" stroke="#333" stroke-width="1.4" />
<text x="142.5" y="838.0" text-anchor="end" >0.9</text>
<line x1="152.6" y1="869.2" x2="157.7" y2="869.2" stroke="#333" stroke-width="1.4" />
<text x="142.5" y="877.4" text-anchor="end" >0.8</text>
<line x1="152.6" y1="908.5" x2="157.7" y2="908.5" stroke="#333" stroke-width="1.4" />
<text x="142.5" y="916.7" text-anchor="end" >0.7</text>
<line x1="152.6" y1="947.9" x2="157.7" y2="947.9" stroke="#333" stroke-width="1.4" />
<text x="142.5" y="956.1" text-anchor="end" >0.6</text>
<path d="M167.4,947.9 L167.4,791.3 L201.1,791.3 L201.1,947.9" fill="none" stroke="#2e82bc" stroke-width="1.8" />
<path d="M211.8,947.9 L211.8,871.1 L245.5,871.1 L245.5,947.9" fill="none" stroke="#2e82bc" stroke-width="1.8" />
<path d="M272.8,947.9 L272.8,791.3 L306.5,791.3 L306.5,947.9" fill="none" stroke="#fc0000" stroke-width="1.8" />
<path d="M317.2,947.9 L317.2,817.4 L350.9,817.4 L350.9,947.9" fill="none" stroke="#fc0000" stroke-width="1.8" />
<line x1="228.0" y1="850.9" x2="228.0" y2="889.8" stroke="#2e82bc" stroke-width="2.0" />
<line x1="218.7" y1="850.9" x2="237.5" y2="850.9" stroke="#2e82bc" stroke-width="2.0" />
<line x1="218.7" y1="889.8" x2="237.5" y2="889.8" stroke="#2e82bc" stroke-width="2.0" />
<line x1="333.6" y1="798.3" x2="333.6" y2="834.3" stroke="#fc0000" stroke-width="2.0" />
<line x1="324.1" y1="798.3" x2="342.9" y2="798.3" stroke="#fc0000" stroke-width="2.0" />
<line x1="324.1" y1="834.3" x2="342.9" y2="834.3" stroke="#fc0000" stroke-width="2.0" />
<circle cx="172.1" cy="790.4" r="3.9" fill="none" stroke="#2e82bc" stroke-width="1.6"/>
<circle cx="184.3" cy="790.4" r="3.9" fill="none" stroke="#2e82bc" stroke-width="1.6"/>
<circle cx="196.1" cy="790.4" r="3.9" fill="none" stroke="#2e82bc" stroke-width="1.6"/>
<circle cx="228.0" cy="842.0" r="3.9" fill="none" stroke="#2e82bc" stroke-width="1.6"/>
<circle cx="228.0" cy="861.4" r="3.9" fill="none" stroke="#2e82bc" stroke-width="1.6"/>
<circle cx="228.0" cy="907.5" r="3.9" fill="none" stroke="#2e82bc" stroke-width="1.6"/>
<circle cx="276.4" cy="790.4" r="3.9" fill="none" stroke="#fc0000" stroke-width="1.6"/>
<circle cx="285.3" cy="790.4" r="3.9" fill="none" stroke="#fc0000" stroke-width="1.6"/>
<circle cx="294.1" cy="790.4" r="3.9" fill="none" stroke="#fc0000" stroke-width="1.6"/>
<circle cx="303.0" cy="790.4" r="3.9" fill="none" stroke="#fc0000" stroke-width="1.6"/>
<circle cx="333.6" cy="771.7" r="3.9" fill="none" stroke="#fc0000" stroke-width="1.6"/>
<circle cx="333.6" cy="805.0" r="3.9" fill="none" stroke="#fc0000" stroke-width="1.6"/>
<circle cx="333.6" cy="836.9" r="3.9" fill="none" stroke="#fc0000" stroke-width="1.6"/>
<circle cx="333.6" cy="853.1" r="3.9" fill="none" stroke="#fc0000" stroke-width="1.6"/>
<text x="231" y="748.9" style="font-size:20.8px"><tspan style="font-style:italic">P</tspan> = 0.0345</text>
<line x1="224.2" y1="758.8" x2="336.7" y2="758.8" stroke="#000" stroke-width="1.8" />
<text x="183.6" y="976.4" text-anchor="middle" >0 h</text>
<text x="228.2" y="976.4" text-anchor="middle" >1 h</text>
<text x="289.1" y="976.4" text-anchor="middle" >0 h</text>
<text x="334.0" y="976.4" text-anchor="middle" >1 h</text>
<text x="258.7" y="1014.5" text-anchor="middle" >Time after actinomycin D</text>
<text x="53.8" y="848.0" text-anchor="middle" style="font-size:24.7px;font-style:italic" transform="rotate(-90 53.8 848.05)">COX7A2L</text>
<text x="83.8" y="848.6" text-anchor="middle" style="font-size:24.4px" transform="rotate(-90 83.8 848.6)">relative expression</text>
<rect x="377.5" y="891.3" width="24.0" height="19.2" fill="none" stroke="#2e82bc" stroke-width="2.2" />
<text x="415.0" y="909.1" >REF</text>
<rect x="377.5" y="925.8" width="24.0" height="19.2" fill="none" stroke="#fc0000" stroke-width="2.2" />
<text x="415.0" y="944.4" >ALT</text>
<text x="601.5" y="773.0" style="font-size:32px;font-weight:bold" >h</text>
<text x="819.0" y="799.0" >5<tspan dx="1.2">′</tspan><tspan dx="2.6"> UTR</tspan></text>
<text x="907.7" y="799.0" >E1</text>
<text x="971.6" y="799.0" >E2</text>
<text x="1035.0" y="799.0" >E3</text>
<text x="1231.5" y="798.2" >3<tspan dx="1.2">′</tspan><tspan dx="2.6"> UTR</tspan></text>
<text x="816.5" y="922.0" >5<tspan dx="1.2">′</tspan><tspan dx="2.6"> UTR</tspan></text>
<text x="905.2" y="922.0" >E1</text>
<text x="969.1" y="922.0" >E2</text>
<text x="1032.5" y="922.0" >E3</text>
<text x="1278.7" y="922.4" >3<tspan dx="1.2">′</tspan><tspan dx="2.6"> UTR</tspan></text>
<text x="727.5" y="845.1" >REF</text>
<text x="730.0" y="966.1" >ALT</text>
<text x="669.2" y="886.0" text-anchor="middle" style="font-style:italic" >COX7A2L</text>
<text x="668.6" y="914.2" text-anchor="middle" >mRNA</text>
<rect x="832.4" y="818.8" width="55.4" height="34.1" fill="none" stroke="#cccccc" stroke-width="1.9" />
<rect x="895.4" y="818.8" width="56.0" height="34.1" fill="none" stroke="#000" stroke-width="1.9" />
<rect x="958.8" y="818.8" width="55.7" height="34.1" fill="none" stroke="#000" stroke-width="1.9" />
<rect x="1022.2" y="818.8" width="55.7" height="34.1" fill="none" stroke="#000" stroke-width="1.9" />
<rect x="1086.8" y="818.8" width="370.6" height="34.1" fill="none" stroke="#999999" stroke-width="1.9" />
<line x1="1202.7" y1="818.8" x2="1202.7" y2="852.8" stroke="#999999" stroke-width="1.9" />
<line x1="1303.7" y1="818.8" x2="1303.7" y2="852.8" stroke="#999999" stroke-width="1.9" />
<rect x="829.5" y="942.6" width="55.7" height="34.1" fill="none" stroke="#cccccc" stroke-width="1.9" />
<rect x="892.8" y="942.6" width="55.7" height="34.1" fill="none" stroke="#000" stroke-width="1.9" />
<rect x="956.2" y="942.6" width="55.7" height="34.1" fill="none" stroke="#000" stroke-width="1.9" />
<rect x="1019.6" y="942.6" width="56.3" height="34.1" fill="none" stroke="#000" stroke-width="1.9" />
<rect x="1084.5" y="942.6" width="472.1" height="34.1" fill="none" stroke="#999999" stroke-width="1.9" />
<line x1="1199.8" y1="942.6" x2="1199.8" y2="976.6" stroke="#999999" stroke-width="1.9" />
<line x1="1301.3" y1="942.6" x2="1301.3" y2="976.6" stroke="#999999" stroke-width="1.9" />
<line x1="1316.7" y1="942.6" x2="1316.7" y2="976.6" stroke="#999999" stroke-width="1.9" />
<line x1="1418.2" y1="942.6" x2="1418.2" y2="976.6" stroke="#999999" stroke-width="1.9" />
<text x="1210.3" y="842.6" style="fill:#17a0e6" >ugugua</text>
<text x="1208.0" y="966.6" style="fill:#17a0e6" >ugugua</text>
<text x="1325.5" y="966.6" style="fill:#e8200f" >ugugua</text>
</svg></body></html>
